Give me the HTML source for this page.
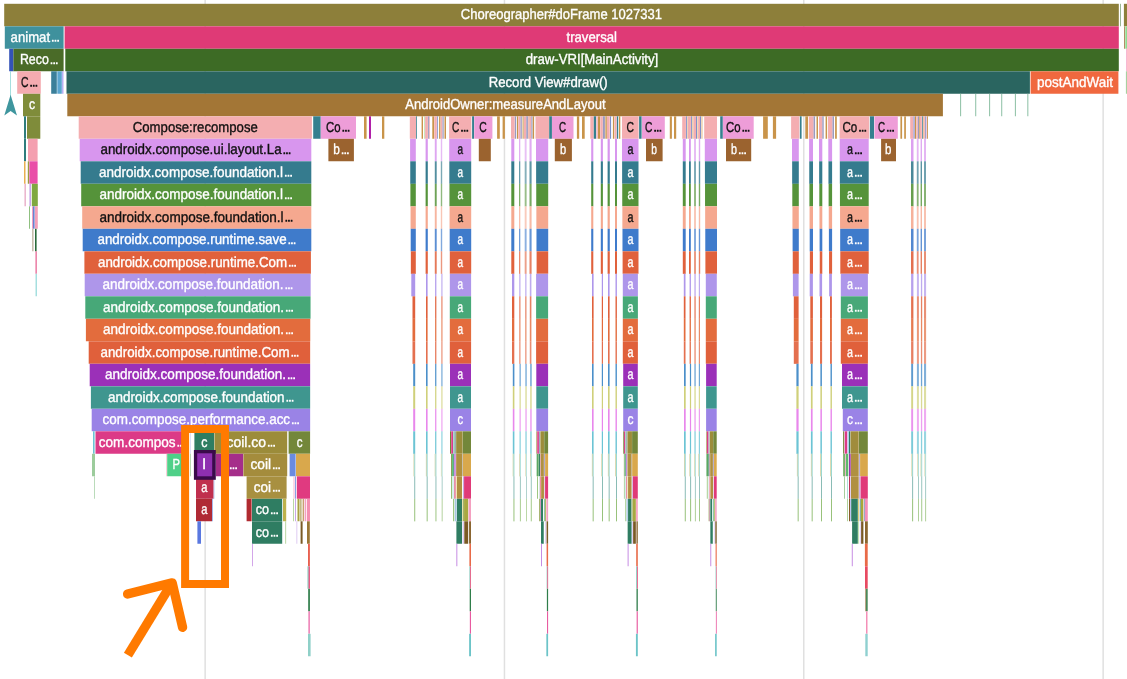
<!DOCTYPE html>
<html><head><meta charset="utf-8"><title>trace</title>
<style>
html,body{margin:0;padding:0;background:#fff;}
body{width:1127px;height:679px;overflow:hidden;}
svg{display:block;will-change:transform;}
text{font-family:"Liberation Sans",sans-serif;font-size:14.5px;text-rendering:geometricPrecision;}
</style></head><body>
<svg width="1127" height="679" viewBox="0 0 1127 679">
<rect x="0" y="0" width="1127" height="679" fill="#fff"/>
<rect x="204.40" y="0.00" width="1.50" height="679.00" fill="#e0e0e0"/>
<rect x="503.70" y="0.00" width="1.50" height="679.00" fill="#e0e0e0"/>
<rect x="803.00" y="0.00" width="1.50" height="679.00" fill="#e0e0e0"/>
<rect x="1102.40" y="0.00" width="1.50" height="679.00" fill="#e0e0e0"/>
<rect x="4.20" y="3.80" width="1114.60" height="22.45" fill="#8d7f3a"/>
<rect x="1120.10" y="3.80" width="0.70" height="22.45" fill="#6f9a6a"/>
<rect x="1123.90" y="3.80" width="3.10" height="22.45" fill="#8d7f3a"/>
<rect x="4.80" y="26.30" width="58.80" height="22.45" fill="#3f919d"/>
<rect x="64.60" y="26.30" width="1054.20" height="22.45" fill="#df3a76"/>
<rect x="1124.00" y="26.30" width="0.80" height="22.45" fill="#a07040"/>
<rect x="1125.30" y="26.30" width="1.70" height="22.45" fill="#8fdc8f"/>
<rect x="9.20" y="48.80" width="4.20" height="22.45" fill="#3353b8"/>
<rect x="13.40" y="48.80" width="50.20" height="22.45" fill="#4a6b28"/>
<rect x="65.30" y="48.80" width="1053.50" height="22.45" fill="#3d6b25"/>
<rect x="1126.20" y="48.80" width="0.80" height="22.45" fill="#f4a8c8"/>
<rect x="17.20" y="71.30" width="23.60" height="22.45" fill="#f4abb0"/>
<rect x="51.20" y="71.30" width="5.60" height="22.45" fill="#3b7f9a"/>
<rect x="57.30" y="71.30" width="4.50" height="22.45" fill="#5aa5d0"/>
<rect x="62.20" y="71.30" width="1.20" height="22.45" fill="#a99cf0"/>
<rect x="66.50" y="71.30" width="963.40" height="22.45" fill="#2a6560"/>
<rect x="1030.60" y="71.30" width="87.80" height="22.45" fill="#f0683f"/>
<rect x="1125.90" y="71.30" width="1.10" height="22.45" fill="#a8d0a0"/>
<rect x="23.00" y="93.80" width="17.30" height="22.45" fill="#7f8c3a"/>
<rect x="67.30" y="93.80" width="875.60" height="22.45" fill="#a37636"/>
<rect x="960.20" y="93.80" width="0.90" height="22.45" fill="#7fb89a"/>
<rect x="975.30" y="93.80" width="0.90" height="22.45" fill="#7fb89a"/>
<rect x="989.20" y="93.80" width="0.90" height="22.45" fill="#7fb89a"/>
<rect x="1001.30" y="93.80" width="0.90" height="22.45" fill="#7fb89a"/>
<rect x="1014.90" y="93.80" width="0.90" height="22.45" fill="#7fb89a"/>
<rect x="1027.40" y="93.80" width="0.90" height="22.45" fill="#7fb89a"/>
<rect x="10.30" y="71.30" width="0.70" height="24.70" fill="#7fd0d0"/>
<path d="M10.6 94.8 L17 115.6 L10.6 111 L4.3 115.6 Z" fill="#3f969e"/>
<rect x="24.00" y="116.30" width="2.00" height="22.45" fill="#2f7d7d"/>
<rect x="27.00" y="116.30" width="13.30" height="22.45" fill="#7f8c3a"/>
<rect x="24.00" y="138.80" width="2.00" height="22.45" fill="#2f7d7d"/>
<rect x="28.00" y="138.80" width="9.60" height="22.45" fill="#f4a0b0"/>
<rect x="24.00" y="161.30" width="1.50" height="22.45" fill="#e8b050"/>
<rect x="27.80" y="161.30" width="1.40" height="22.45" fill="#9a9a40"/>
<rect x="29.40" y="161.30" width="8.20" height="22.45" fill="#e94fa8"/>
<rect x="24.70" y="183.80" width="0.80" height="22.45" fill="#d870a0"/>
<rect x="29.40" y="183.80" width="1.60" height="22.45" fill="#c8a8e8"/>
<rect x="31.80" y="183.80" width="6.00" height="22.45" fill="#7fa840"/>
<rect x="29.00" y="206.30" width="1.00" height="22.45" fill="#8fc080"/>
<rect x="32.00" y="206.30" width="1.00" height="22.45" fill="#f0a0c0"/>
<rect x="33.00" y="206.30" width="1.60" height="22.45" fill="#6a80d0"/>
<rect x="35.00" y="206.30" width="2.80" height="22.45" fill="#f4a0b8"/>
<rect x="32.00" y="228.80" width="1.60" height="22.45" fill="#c8bfae"/>
<rect x="35.00" y="228.80" width="1.60" height="22.45" fill="#2a6a3a"/>
<rect x="35.60" y="251.30" width="1.00" height="22.45" fill="#e03a76"/>
<rect x="35.60" y="273.80" width="1.20" height="22.45" fill="#8fd8d8"/>
<rect x="78.70" y="116.30" width="233.20" height="22.45" fill="#f4aeb1"/>
<rect x="79.70" y="138.80" width="231.60" height="22.45" fill="#d896ee"/>
<rect x="80.70" y="161.30" width="230.60" height="22.45" fill="#357b8e"/>
<rect x="81.20" y="183.80" width="230.10" height="22.45" fill="#55933a"/>
<rect x="82.20" y="206.30" width="229.10" height="22.45" fill="#f5a88f"/>
<rect x="82.70" y="228.80" width="228.60" height="22.45" fill="#3f7bcb"/>
<rect x="84.40" y="251.30" width="226.50" height="22.45" fill="#e0613c"/>
<rect x="84.70" y="273.80" width="225.95" height="22.45" fill="#ae96ea"/>
<rect x="85.30" y="296.30" width="225.25" height="22.45" fill="#47a878"/>
<rect x="85.90" y="318.80" width="224.35" height="22.45" fill="#e36c3d"/>
<rect x="88.70" y="341.30" width="221.45" height="22.45" fill="#e0603b"/>
<rect x="89.70" y="363.80" width="220.45" height="22.45" fill="#9b30b8"/>
<rect x="90.90" y="386.30" width="219.25" height="22.45" fill="#3f968f"/>
<rect x="91.70" y="408.80" width="218.45" height="22.45" fill="#9a83e6"/>
<rect x="313.20" y="116.30" width="7.50" height="22.45" fill="#35808f"/>
<rect x="320.80" y="116.30" width="35.20" height="22.45" fill="#ee9dd8"/>
<rect x="328.40" y="138.80" width="25.50" height="22.45" fill="#9b632f"/>
<rect x="364.00" y="116.30" width="2.60" height="22.45" fill="#c9944a"/>
<rect x="369.00" y="116.30" width="2.00" height="22.45" fill="#b020a8"/>
<rect x="382.00" y="116.30" width="2.30" height="22.45" fill="#c9944a"/>
<rect x="409.80" y="116.30" width="6.20" height="22.45" fill="#f4aeb1"/>
<rect x="416.20" y="116.30" width="0.80" height="22.45" fill="#35808f"/>
<rect x="421.60" y="116.30" width="1.40" height="22.45" fill="#c9944a"/>
<rect x="424.30" y="116.30" width="0.60" height="22.45" fill="#a8d890"/>
<rect x="425.10" y="116.30" width="2.80" height="22.45" fill="#f4aeb1"/>
<rect x="428.10" y="116.30" width="1.30" height="22.45" fill="#9a9ac0"/>
<rect x="429.40" y="116.30" width="0.60" height="22.45" fill="#f4aeb1"/>
<rect x="432.30" y="116.30" width="1.80" height="22.45" fill="#c9944a"/>
<rect x="434.30" y="116.30" width="2.50" height="22.45" fill="#f4aeb1"/>
<rect x="437.00" y="116.30" width="0.80" height="22.45" fill="#7f8fc8"/>
<rect x="439.10" y="116.30" width="1.40" height="22.45" fill="#c9944a"/>
<rect x="440.70" y="116.30" width="1.70" height="22.45" fill="#f4aeb1"/>
<rect x="442.50" y="116.30" width="1.20" height="22.45" fill="#9a9ac0"/>
<rect x="444.50" y="116.30" width="1.50" height="22.45" fill="#c9944a"/>
<rect x="511.00" y="116.30" width="3.70" height="22.45" fill="#f4aeb1"/>
<rect x="514.90" y="116.30" width="1.30" height="22.45" fill="#9a9ac0"/>
<rect x="517.00" y="116.30" width="1.10" height="22.45" fill="#c9944a"/>
<rect x="518.30" y="116.30" width="2.10" height="22.45" fill="#f4aeb1"/>
<rect x="520.50" y="116.30" width="1.30" height="22.45" fill="#9a9ac0"/>
<rect x="522.60" y="116.30" width="1.00" height="22.45" fill="#c9944a"/>
<rect x="524.00" y="116.30" width="2.20" height="22.45" fill="#f4aeb1"/>
<rect x="526.30" y="116.30" width="1.60" height="22.45" fill="#9a9ac0"/>
<rect x="528.10" y="116.30" width="0.70" height="22.45" fill="#f4aeb1"/>
<rect x="528.90" y="116.30" width="0.50" height="22.45" fill="#c9944a"/>
<rect x="529.40" y="116.30" width="1.70" height="22.45" fill="#f4aeb1"/>
<rect x="531.30" y="116.30" width="1.20" height="22.45" fill="#9a9ac0"/>
<rect x="532.80" y="116.30" width="1.30" height="22.45" fill="#c9944a"/>
<rect x="590.30" y="116.30" width="3.40" height="22.45" fill="#f4aeb1"/>
<rect x="593.80" y="116.30" width="2.30" height="22.45" fill="#35808f"/>
<rect x="596.40" y="116.30" width="1.40" height="22.45" fill="#f4aeb1"/>
<rect x="598.00" y="116.30" width="2.10" height="22.45" fill="#c9944a"/>
<rect x="600.30" y="116.30" width="2.50" height="22.45" fill="#f4aeb1"/>
<rect x="602.90" y="116.30" width="2.00" height="22.45" fill="#9a9ac0"/>
<rect x="605.40" y="116.30" width="1.40" height="22.45" fill="#c9944a"/>
<rect x="607.00" y="116.30" width="2.70" height="22.45" fill="#f4aeb1"/>
<rect x="610.00" y="116.30" width="1.10" height="22.45" fill="#7f8fc8"/>
<rect x="612.90" y="116.30" width="1.30" height="22.45" fill="#c9944a"/>
<rect x="614.50" y="116.30" width="2.10" height="22.45" fill="#f4aeb1"/>
<rect x="616.90" y="116.30" width="1.30" height="22.45" fill="#35808f"/>
<rect x="619.00" y="116.30" width="1.30" height="22.45" fill="#c9944a"/>
<rect x="682.20" y="116.30" width="3.70" height="22.45" fill="#f4aeb1"/>
<rect x="686.10" y="116.30" width="0.90" height="22.45" fill="#7f8fc8"/>
<rect x="687.20" y="116.30" width="0.70" height="22.45" fill="#e8c8a0"/>
<rect x="687.90" y="116.30" width="3.00" height="22.45" fill="#f4aeb1"/>
<rect x="691.10" y="116.30" width="0.90" height="22.45" fill="#7f8fc8"/>
<rect x="692.20" y="116.30" width="1.30" height="22.45" fill="#e8c8a0"/>
<rect x="693.50" y="116.30" width="2.50" height="22.45" fill="#f4aeb1"/>
<rect x="696.00" y="116.30" width="1.00" height="22.45" fill="#7f8fc8"/>
<rect x="697.30" y="116.30" width="0.80" height="22.45" fill="#e8c8a0"/>
<rect x="698.10" y="116.30" width="1.90" height="22.45" fill="#f4aeb1"/>
<rect x="700.00" y="116.30" width="1.00" height="22.45" fill="#7f8fc8"/>
<rect x="701.30" y="116.30" width="1.30" height="22.45" fill="#e8c8a0"/>
<rect x="791.10" y="116.30" width="8.30" height="22.45" fill="#f4aeb1"/>
<rect x="799.90" y="116.30" width="1.70" height="22.45" fill="#35808f"/>
<rect x="805.30" y="116.30" width="2.70" height="22.45" fill="#c9944a"/>
<rect x="808.80" y="116.30" width="4.80" height="22.45" fill="#f4aeb1"/>
<rect x="813.60" y="116.30" width="1.50" height="22.45" fill="#9a9ac0"/>
<rect x="816.50" y="116.30" width="1.50" height="22.45" fill="#c9944a"/>
<rect x="819.00" y="116.30" width="3.30" height="22.45" fill="#f4aeb1"/>
<rect x="822.30" y="116.30" width="1.40" height="22.45" fill="#9a9ac0"/>
<rect x="825.60" y="116.30" width="1.50" height="22.45" fill="#c9944a"/>
<rect x="828.00" y="116.30" width="4.50" height="22.45" fill="#f4aeb1"/>
<rect x="832.50" y="116.30" width="1.50" height="22.45" fill="#9a9ac0"/>
<rect x="835.10" y="116.30" width="1.70" height="22.45" fill="#c9944a"/>
<rect x="910.20" y="116.30" width="2.90" height="22.45" fill="#f4aeb1"/>
<rect x="913.20" y="116.30" width="1.70" height="22.45" fill="#b0a8d0"/>
<rect x="915.00" y="116.30" width="1.20" height="22.45" fill="#c9944a"/>
<rect x="916.40" y="116.30" width="1.40" height="22.45" fill="#f4aeb1"/>
<rect x="917.90" y="116.30" width="1.10" height="22.45" fill="#9a9ac0"/>
<rect x="919.10" y="116.30" width="0.70" height="22.45" fill="#c9944a"/>
<rect x="919.90" y="116.30" width="1.90" height="22.45" fill="#f4aeb1"/>
<rect x="922.00" y="116.30" width="1.10" height="22.45" fill="#6a9aa8"/>
<rect x="923.20" y="116.30" width="1.00" height="22.45" fill="#f0b890"/>
<rect x="924.20" y="116.30" width="0.80" height="22.45" fill="#f4aeb1"/>
<rect x="925.10" y="116.30" width="1.00" height="22.45" fill="#9a9ac0"/>
<rect x="926.20" y="116.30" width="0.80" height="22.45" fill="#e0c0e8"/>
<rect x="927.10" y="116.30" width="0.90" height="22.45" fill="#c9944a"/>
<rect x="410.10" y="138.80" width="5.70" height="22.55" fill="#d896ee"/>
<rect x="410.25" y="161.30" width="5.55" height="22.55" fill="#357b8e"/>
<rect x="410.40" y="183.80" width="5.40" height="22.55" fill="#55933a"/>
<rect x="410.55" y="206.30" width="5.25" height="22.55" fill="#f5a88f"/>
<rect x="410.70" y="228.80" width="5.10" height="22.55" fill="#3f7bcb"/>
<rect x="410.85" y="251.30" width="4.95" height="22.55" fill="#e0613c"/>
<rect x="411.30" y="273.80" width="3.90" height="22.55" fill="#ae96ea"/>
<rect x="412.50" y="296.30" width="2.70" height="22.55" fill="#e0613c"/>
<rect x="412.50" y="318.80" width="2.70" height="22.55" fill="#e36c3d"/>
<rect x="412.50" y="341.30" width="2.70" height="22.55" fill="#e4704f"/>
<rect x="413.20" y="363.80" width="2.00" height="22.55" fill="#4b8fc9"/>
<rect x="413.20" y="386.30" width="2.00" height="22.55" fill="#cfd07a"/>
<rect x="413.20" y="408.80" width="2.00" height="22.55" fill="#e887ec"/>
<rect x="413.20" y="431.30" width="2.00" height="22.55" fill="#6cc4d4"/>
<rect x="413.50" y="453.80" width="0.85" height="22.55" fill="#d0cc98" opacity="0.9"/>
<rect x="414.30" y="453.80" width="0.90" height="22.55" fill="#84cfc9" opacity="0.9"/>
<rect x="414.30" y="476.30" width="0.90" height="22.55" fill="#6faca4" opacity="0.9"/>
<rect x="414.30" y="498.80" width="0.90" height="22.55" fill="#80b45c" opacity="0.9"/>
<rect x="425.60" y="138.80" width="2.20" height="22.55" fill="#d896ee"/>
<rect x="425.60" y="161.30" width="2.20" height="22.55" fill="#357b8e"/>
<rect x="425.60" y="183.80" width="2.20" height="22.55" fill="#55933a"/>
<rect x="425.60" y="206.30" width="2.20" height="22.55" fill="#f5a88f"/>
<rect x="425.60" y="228.80" width="2.20" height="22.55" fill="#3f7bcb"/>
<rect x="425.60" y="251.30" width="2.20" height="22.55" fill="#e0613c"/>
<rect x="426.00" y="273.80" width="1.60" height="22.55" fill="#ae96ea"/>
<rect x="426.00" y="296.30" width="1.60" height="22.55" fill="#e0613c"/>
<rect x="426.00" y="318.80" width="1.60" height="22.55" fill="#e36c3d"/>
<rect x="426.00" y="341.30" width="1.60" height="22.55" fill="#e4704f"/>
<rect x="426.00" y="363.80" width="1.60" height="22.55" fill="#4b8fc9"/>
<rect x="426.00" y="386.30" width="1.60" height="22.55" fill="#cfd07a"/>
<rect x="426.00" y="408.80" width="1.60" height="22.55" fill="#e887ec"/>
<rect x="426.00" y="431.30" width="1.60" height="22.55" fill="#6cc4d4"/>
<rect x="425.90" y="453.80" width="0.85" height="22.55" fill="#d0cc98" opacity="0.9"/>
<rect x="426.70" y="453.80" width="0.90" height="22.55" fill="#84cfc9" opacity="0.9"/>
<rect x="426.70" y="476.30" width="0.90" height="22.55" fill="#6faca4" opacity="0.9"/>
<rect x="426.70" y="498.80" width="0.90" height="22.55" fill="#80b45c" opacity="0.9"/>
<rect x="434.80" y="138.80" width="1.90" height="22.55" fill="#d896ee" opacity="0.85"/>
<rect x="434.80" y="161.30" width="1.90" height="22.55" fill="#357b8e" opacity="0.85"/>
<rect x="434.80" y="183.80" width="1.90" height="22.55" fill="#55933a" opacity="0.85"/>
<rect x="434.80" y="206.30" width="1.90" height="22.55" fill="#f5a88f" opacity="0.85"/>
<rect x="434.80" y="228.80" width="1.90" height="22.55" fill="#3f7bcb" opacity="0.85"/>
<rect x="434.80" y="251.30" width="1.90" height="22.55" fill="#e0613c" opacity="0.85"/>
<rect x="435.00" y="273.80" width="1.40" height="22.55" fill="#ae96ea" opacity="0.85"/>
<rect x="435.00" y="296.30" width="1.40" height="22.55" fill="#e0613c" opacity="0.85"/>
<rect x="435.00" y="318.80" width="1.40" height="22.55" fill="#e36c3d" opacity="0.85"/>
<rect x="435.00" y="341.30" width="1.40" height="22.55" fill="#e4704f" opacity="0.85"/>
<rect x="435.00" y="363.80" width="1.40" height="22.55" fill="#4b8fc9" opacity="0.85"/>
<rect x="435.00" y="386.30" width="1.40" height="22.55" fill="#cfd07a" opacity="0.85"/>
<rect x="435.00" y="408.80" width="1.40" height="22.55" fill="#e887ec" opacity="0.85"/>
<rect x="435.00" y="431.30" width="1.40" height="22.55" fill="#6cc4d4" opacity="0.85"/>
<rect x="434.70" y="453.80" width="0.85" height="22.55" fill="#d0cc98" opacity="0.85"/>
<rect x="435.50" y="453.80" width="0.90" height="22.55" fill="#84cfc9" opacity="0.85"/>
<rect x="435.50" y="476.30" width="0.90" height="22.55" fill="#6faca4" opacity="0.85"/>
<rect x="435.50" y="498.80" width="0.90" height="22.55" fill="#80b45c" opacity="0.85"/>
<rect x="440.80" y="138.80" width="1.40" height="22.55" fill="#d896ee" opacity="0.65"/>
<rect x="440.80" y="161.30" width="1.40" height="22.55" fill="#357b8e" opacity="0.65"/>
<rect x="440.80" y="183.80" width="1.40" height="22.55" fill="#55933a" opacity="0.65"/>
<rect x="440.80" y="206.30" width="1.40" height="22.55" fill="#f5a88f" opacity="0.65"/>
<rect x="440.80" y="228.80" width="1.40" height="22.55" fill="#3f7bcb" opacity="0.65"/>
<rect x="440.80" y="251.30" width="1.40" height="22.55" fill="#e0613c" opacity="0.65"/>
<rect x="441.20" y="273.80" width="1.40" height="22.55" fill="#ae96ea" opacity="0.65"/>
<rect x="441.20" y="296.30" width="1.40" height="22.55" fill="#e0613c" opacity="0.65"/>
<rect x="441.20" y="318.80" width="1.40" height="22.55" fill="#e36c3d" opacity="0.65"/>
<rect x="441.20" y="341.30" width="1.40" height="22.55" fill="#e4704f" opacity="0.65"/>
<rect x="441.20" y="363.80" width="1.40" height="22.55" fill="#4b8fc9" opacity="0.65"/>
<rect x="441.20" y="386.30" width="1.40" height="22.55" fill="#cfd07a" opacity="0.65"/>
<rect x="441.20" y="408.80" width="1.40" height="22.55" fill="#e887ec" opacity="0.65"/>
<rect x="441.20" y="431.30" width="1.40" height="22.55" fill="#6cc4d4" opacity="0.65"/>
<rect x="440.90" y="453.80" width="0.85" height="22.55" fill="#d0cc98" opacity="0.65"/>
<rect x="441.70" y="453.80" width="0.90" height="22.55" fill="#84cfc9" opacity="0.65"/>
<rect x="441.70" y="476.30" width="0.90" height="22.55" fill="#6faca4" opacity="0.65"/>
<rect x="441.70" y="498.80" width="0.90" height="22.55" fill="#80b45c" opacity="0.65"/>
<rect x="449.10" y="116.30" width="22.30" height="22.45" fill="#f4aeb1"/>
<rect x="472.10" y="116.30" width="1.90" height="22.45" fill="#35808f"/>
<rect x="474.20" y="116.30" width="18.20" height="22.45" fill="#ee9dd8"/>
<rect x="449.20" y="138.80" width="22.00" height="22.45" fill="#d896ee"/>
<rect x="449.32" y="161.30" width="21.88" height="22.45" fill="#357b8e"/>
<rect x="449.44" y="183.80" width="21.76" height="22.45" fill="#55933a"/>
<rect x="449.56" y="206.30" width="21.64" height="22.45" fill="#f5a88f"/>
<rect x="449.68" y="228.80" width="21.52" height="22.45" fill="#3f7bcb"/>
<rect x="449.80" y="251.30" width="21.40" height="22.45" fill="#e0613c"/>
<rect x="449.80" y="273.80" width="21.30" height="22.45" fill="#ae96ea"/>
<rect x="449.80" y="296.30" width="21.30" height="22.45" fill="#47a878"/>
<rect x="449.80" y="318.80" width="21.30" height="22.45" fill="#e36c3d"/>
<rect x="449.80" y="341.30" width="21.30" height="22.45" fill="#e0603b"/>
<rect x="450.00" y="363.80" width="21.00" height="22.45" fill="#9b30b8"/>
<rect x="450.00" y="386.30" width="21.00" height="22.45" fill="#3f968f"/>
<rect x="450.00" y="408.80" width="21.00" height="22.45" fill="#9a83e6"/>
<rect x="450.00" y="431.30" width="1.05" height="22.45" fill="#73873a"/>
<rect x="451.22" y="431.30" width="1.81" height="22.45" fill="#dc3a87"/>
<rect x="453.34" y="431.30" width="1.07" height="22.45" fill="#7fc8b8"/>
<rect x="454.41" y="431.30" width="1.47" height="22.45" fill="#8aa8a0"/>
<rect x="456.15" y="431.30" width="6.45" height="22.45" fill="#9c8c3a"/>
<rect x="462.81" y="431.30" width="8.19" height="22.45" fill="#73873a"/>
<rect x="451.01" y="453.80" width="0.82" height="22.45" fill="#73873a"/>
<rect x="452.02" y="453.80" width="1.13" height="22.45" fill="#5fc878"/>
<rect x="453.15" y="453.80" width="0.69" height="22.45" fill="#2f7d62"/>
<rect x="453.99" y="453.80" width="1.89" height="22.45" fill="#c890e0"/>
<rect x="456.15" y="453.80" width="5.86" height="22.45" fill="#b09040"/>
<rect x="462.12" y="453.80" width="0.69" height="22.45" fill="#b0a890"/>
<rect x="462.92" y="453.80" width="8.08" height="22.45" fill="#d9a84c"/>
<rect x="451.05" y="476.30" width="1.05" height="22.45" fill="#8fc070"/>
<rect x="452.37" y="476.30" width="1.28" height="22.45" fill="#c8ece8"/>
<rect x="453.99" y="476.30" width="1.89" height="22.45" fill="#e890a8"/>
<rect x="456.09" y="476.30" width="0.76" height="22.45" fill="#f0e0a0"/>
<rect x="456.99" y="476.30" width="5.06" height="22.45" fill="#b09040"/>
<rect x="463.10" y="476.30" width="0.76" height="22.45" fill="#b888d8"/>
<rect x="464.07" y="476.30" width="6.93" height="22.45" fill="#e03a78"/>
<rect x="453.13" y="498.80" width="1.05" height="22.45" fill="#8fc070"/>
<rect x="454.77" y="498.80" width="1.87" height="22.45" fill="#a8c8e0"/>
<rect x="456.99" y="498.80" width="5.06" height="22.45" fill="#2f7d62"/>
<rect x="462.18" y="498.80" width="0.78" height="22.45" fill="#e8dc98"/>
<rect x="463.10" y="498.80" width="0.76" height="22.45" fill="#8a9a40"/>
<rect x="464.07" y="498.80" width="4.10" height="22.45" fill="#a8a840"/>
<rect x="468.54" y="498.80" width="2.46" height="22.45" fill="#f4a0c0"/>
<rect x="456.40" y="521.30" width="5.65" height="22.45" fill="#2f7d62"/>
<rect x="462.81" y="521.30" width="1.05" height="22.45" fill="#d8c0f0"/>
<rect x="464.28" y="521.30" width="3.89" height="22.45" fill="#7a5a25"/>
<rect x="469.07" y="521.30" width="1.93" height="22.45" fill="#8a6530"/>
<rect x="456.40" y="543.80" width="0.90" height="22.45" fill="#c080e0"/>
<rect x="469.40" y="543.80" width="1.60" height="22.45" fill="#e86a48"/>
<rect x="469.56" y="566.30" width="0.72" height="22.45" fill="#5fb8a8"/>
<rect x="470.21" y="566.30" width="0.79" height="22.45" fill="#e84a78"/>
<rect x="469.70" y="588.80" width="1.30" height="22.45" fill="#2f7d4a"/>
<rect x="469.85" y="611.30" width="1.15" height="22.45" fill="#e85aa0"/>
<rect x="469.13" y="633.80" width="1.87" height="22.45" fill="#6cc4c8"/>
<rect x="478.80" y="138.80" width="12.00" height="22.45" fill="#9b632f"/>
<rect x="497.10" y="116.30" width="2.70" height="22.45" fill="#c9944a"/>
<rect x="502.60" y="116.30" width="2.30" height="22.45" fill="#c9944a"/>
<rect x="511.30" y="138.80" width="3.00" height="22.55" fill="#d896ee"/>
<rect x="511.30" y="161.30" width="3.00" height="22.55" fill="#357b8e"/>
<rect x="511.30" y="183.80" width="3.00" height="22.55" fill="#55933a"/>
<rect x="511.30" y="206.30" width="3.00" height="22.55" fill="#f5a88f"/>
<rect x="511.30" y="228.80" width="3.00" height="22.55" fill="#3f7bcb"/>
<rect x="511.30" y="251.30" width="3.00" height="22.55" fill="#e0613c"/>
<rect x="512.00" y="273.80" width="2.30" height="22.55" fill="#ae96ea"/>
<rect x="512.00" y="296.30" width="2.30" height="22.55" fill="#e0613c"/>
<rect x="512.00" y="318.80" width="2.30" height="22.55" fill="#e36c3d"/>
<rect x="512.00" y="341.30" width="2.30" height="22.55" fill="#e4704f"/>
<rect x="512.80" y="363.80" width="1.60" height="22.55" fill="#4b8fc9"/>
<rect x="512.80" y="386.30" width="1.60" height="22.55" fill="#cfd07a"/>
<rect x="512.80" y="408.80" width="1.60" height="22.55" fill="#e887ec"/>
<rect x="512.80" y="431.30" width="1.60" height="22.55" fill="#6cc4d4"/>
<rect x="512.70" y="453.80" width="0.85" height="22.55" fill="#d0cc98" opacity="0.9"/>
<rect x="513.50" y="453.80" width="0.90" height="22.55" fill="#84cfc9" opacity="0.9"/>
<rect x="513.50" y="476.30" width="0.90" height="22.55" fill="#6faca4" opacity="0.9"/>
<rect x="513.50" y="498.80" width="0.90" height="22.55" fill="#80b45c" opacity="0.9"/>
<rect x="519.00" y="138.80" width="1.30" height="22.55" fill="#d896ee" opacity="0.75"/>
<rect x="519.00" y="161.30" width="1.30" height="22.55" fill="#357b8e" opacity="0.75"/>
<rect x="519.00" y="183.80" width="1.30" height="22.55" fill="#55933a" opacity="0.75"/>
<rect x="519.00" y="206.30" width="1.30" height="22.55" fill="#f5a88f" opacity="0.75"/>
<rect x="519.00" y="228.80" width="1.30" height="22.55" fill="#3f7bcb" opacity="0.75"/>
<rect x="519.00" y="251.30" width="1.30" height="22.55" fill="#e0613c" opacity="0.75"/>
<rect x="519.20" y="273.80" width="1.30" height="22.55" fill="#ae96ea" opacity="0.75"/>
<rect x="519.20" y="296.30" width="1.30" height="22.55" fill="#e0613c" opacity="0.75"/>
<rect x="519.20" y="318.80" width="1.30" height="22.55" fill="#e36c3d" opacity="0.75"/>
<rect x="519.20" y="341.30" width="1.30" height="22.55" fill="#e4704f" opacity="0.75"/>
<rect x="519.50" y="363.80" width="1.30" height="22.55" fill="#4b8fc9" opacity="0.75"/>
<rect x="519.50" y="386.30" width="1.30" height="22.55" fill="#cfd07a" opacity="0.75"/>
<rect x="519.50" y="408.80" width="1.30" height="22.55" fill="#e887ec" opacity="0.75"/>
<rect x="519.50" y="431.30" width="1.30" height="22.55" fill="#6cc4d4" opacity="0.75"/>
<rect x="519.10" y="453.80" width="0.85" height="22.55" fill="#d0cc98" opacity="0.75"/>
<rect x="519.90" y="453.80" width="0.90" height="22.55" fill="#84cfc9" opacity="0.75"/>
<rect x="519.90" y="476.30" width="0.90" height="22.55" fill="#6faca4" opacity="0.75"/>
<rect x="519.90" y="498.80" width="0.90" height="22.55" fill="#80b45c" opacity="0.75"/>
<rect x="524.70" y="138.80" width="1.90" height="22.55" fill="#d896ee" opacity="0.6"/>
<rect x="524.70" y="161.30" width="1.90" height="22.55" fill="#357b8e" opacity="0.6"/>
<rect x="524.70" y="183.80" width="1.90" height="22.55" fill="#55933a" opacity="0.6"/>
<rect x="524.70" y="206.30" width="1.90" height="22.55" fill="#f5a88f" opacity="0.6"/>
<rect x="524.70" y="228.80" width="1.90" height="22.55" fill="#3f7bcb" opacity="0.6"/>
<rect x="524.70" y="251.30" width="1.90" height="22.55" fill="#e0613c" opacity="0.6"/>
<rect x="525.00" y="273.80" width="1.60" height="22.55" fill="#ae96ea" opacity="0.6"/>
<rect x="525.00" y="296.30" width="1.60" height="22.55" fill="#e0613c" opacity="0.6"/>
<rect x="525.00" y="318.80" width="1.60" height="22.55" fill="#e36c3d" opacity="0.6"/>
<rect x="525.00" y="341.30" width="1.60" height="22.55" fill="#e4704f" opacity="0.6"/>
<rect x="525.20" y="363.80" width="1.70" height="22.55" fill="#4b8fc9" opacity="0.6"/>
<rect x="525.20" y="386.30" width="1.70" height="22.55" fill="#cfd07a" opacity="0.6"/>
<rect x="525.20" y="408.80" width="1.70" height="22.55" fill="#e887ec" opacity="0.6"/>
<rect x="525.20" y="431.30" width="1.70" height="22.55" fill="#6cc4d4" opacity="0.6"/>
<rect x="525.20" y="453.80" width="0.85" height="22.55" fill="#d0cc98" opacity="0.6"/>
<rect x="526.00" y="453.80" width="0.90" height="22.55" fill="#84cfc9" opacity="0.6"/>
<rect x="526.00" y="476.30" width="0.90" height="22.55" fill="#6faca4" opacity="0.6"/>
<rect x="526.00" y="498.80" width="0.90" height="22.55" fill="#80b45c" opacity="0.6"/>
<rect x="529.50" y="138.80" width="2.10" height="22.55" fill="#d896ee" opacity="0.8"/>
<rect x="529.50" y="161.30" width="2.10" height="22.55" fill="#357b8e" opacity="0.8"/>
<rect x="529.50" y="183.80" width="2.10" height="22.55" fill="#55933a" opacity="0.8"/>
<rect x="529.50" y="206.30" width="2.10" height="22.55" fill="#f5a88f" opacity="0.8"/>
<rect x="529.50" y="228.80" width="2.10" height="22.55" fill="#3f7bcb" opacity="0.8"/>
<rect x="529.50" y="251.30" width="2.10" height="22.55" fill="#e0613c" opacity="0.8"/>
<rect x="529.80" y="273.80" width="1.60" height="22.55" fill="#ae96ea" opacity="0.8"/>
<rect x="529.80" y="296.30" width="1.60" height="22.55" fill="#e0613c" opacity="0.8"/>
<rect x="529.80" y="318.80" width="1.60" height="22.55" fill="#e36c3d" opacity="0.8"/>
<rect x="529.80" y="341.30" width="1.60" height="22.55" fill="#e4704f" opacity="0.8"/>
<rect x="530.20" y="363.80" width="1.50" height="22.55" fill="#4b8fc9" opacity="0.8"/>
<rect x="530.20" y="386.30" width="1.50" height="22.55" fill="#cfd07a" opacity="0.8"/>
<rect x="530.20" y="408.80" width="1.50" height="22.55" fill="#e887ec" opacity="0.8"/>
<rect x="530.20" y="431.30" width="1.50" height="22.55" fill="#6cc4d4" opacity="0.8"/>
<rect x="530.00" y="453.80" width="0.85" height="22.55" fill="#d0cc98" opacity="0.8"/>
<rect x="530.80" y="453.80" width="0.90" height="22.55" fill="#84cfc9" opacity="0.8"/>
<rect x="530.80" y="476.30" width="0.90" height="22.55" fill="#6faca4" opacity="0.8"/>
<rect x="530.80" y="498.80" width="0.90" height="22.55" fill="#80b45c" opacity="0.8"/>
<rect x="535.50" y="116.30" width="13.50" height="22.45" fill="#f4aeb1"/>
<rect x="549.20" y="116.30" width="2.70" height="22.45" fill="#35808f"/>
<rect x="552.00" y="116.30" width="21.50" height="22.45" fill="#ee9dd8"/>
<rect x="536.00" y="138.80" width="12.20" height="22.45" fill="#d896ee"/>
<rect x="536.12" y="161.30" width="12.08" height="22.45" fill="#357b8e"/>
<rect x="536.24" y="183.80" width="11.96" height="22.45" fill="#55933a"/>
<rect x="536.36" y="206.30" width="11.84" height="22.45" fill="#f5a88f"/>
<rect x="536.48" y="228.80" width="11.72" height="22.45" fill="#3f7bcb"/>
<rect x="536.60" y="251.30" width="11.60" height="22.45" fill="#e0613c"/>
<rect x="536.10" y="273.80" width="12.00" height="22.45" fill="#ae96ea"/>
<rect x="536.10" y="296.30" width="12.00" height="22.45" fill="#47a878"/>
<rect x="536.10" y="318.80" width="12.00" height="22.45" fill="#e36c3d"/>
<rect x="536.10" y="341.30" width="12.00" height="22.45" fill="#e0603b"/>
<rect x="536.30" y="363.80" width="11.80" height="22.45" fill="#9b30b8"/>
<rect x="536.30" y="386.30" width="11.80" height="22.45" fill="#3f968f"/>
<rect x="536.30" y="408.80" width="11.80" height="22.45" fill="#9a83e6"/>
<rect x="536.30" y="431.30" width="0.83" height="22.45" fill="#a8a060"/>
<rect x="537.24" y="431.30" width="1.65" height="22.45" fill="#dc3a87"/>
<rect x="539.13" y="431.30" width="0.83" height="22.45" fill="#8a9ab8"/>
<rect x="540.37" y="431.30" width="3.60" height="22.45" fill="#9c8c3a"/>
<rect x="544.21" y="431.30" width="3.89" height="22.45" fill="#73873a"/>
<rect x="536.65" y="453.80" width="2.01" height="22.45" fill="#5aa860"/>
<rect x="538.90" y="453.80" width="1.06" height="22.45" fill="#2f7d62"/>
<rect x="540.08" y="453.80" width="0.59" height="22.45" fill="#d88090"/>
<rect x="540.84" y="453.80" width="3.01" height="22.45" fill="#b09040"/>
<rect x="543.97" y="453.80" width="1.00" height="22.45" fill="#b0a8c8"/>
<rect x="545.13" y="453.80" width="2.97" height="22.45" fill="#d9a84c"/>
<rect x="537.13" y="476.30" width="0.87" height="22.45" fill="#8fc070"/>
<rect x="539.01" y="476.30" width="0.71" height="22.45" fill="#c8e0e0"/>
<rect x="539.91" y="476.30" width="1.11" height="22.45" fill="#f090a0"/>
<rect x="541.14" y="476.30" width="2.83" height="22.45" fill="#b09040"/>
<rect x="544.09" y="476.30" width="0.83" height="22.45" fill="#e0d0e0"/>
<rect x="545.08" y="476.30" width="3.02" height="22.45" fill="#e03a78"/>
<rect x="539.18" y="498.80" width="0.73" height="22.45" fill="#8a9a40"/>
<rect x="540.08" y="498.80" width="0.71" height="22.45" fill="#c070a0"/>
<rect x="541.02" y="498.80" width="2.01" height="22.45" fill="#2f7d62"/>
<rect x="543.97" y="498.80" width="1.25" height="22.45" fill="#8fc8a8"/>
<rect x="545.22" y="498.80" width="0.76" height="22.45" fill="#a8a840"/>
<rect x="546.33" y="498.80" width="1.77" height="22.45" fill="#f4a0c0"/>
<rect x="541.02" y="521.30" width="2.71" height="22.45" fill="#2f7d62"/>
<rect x="545.03" y="521.30" width="0.71" height="22.45" fill="#d8c0f0"/>
<rect x="546.57" y="521.30" width="1.53" height="22.45" fill="#7a5a25"/>
<rect x="541.02" y="543.80" width="0.90" height="22.45" fill="#c080e0"/>
<rect x="546.60" y="543.80" width="1.50" height="22.45" fill="#e86a48"/>
<rect x="546.75" y="566.30" width="0.68" height="22.45" fill="#5fb8a8"/>
<rect x="547.36" y="566.30" width="0.74" height="22.45" fill="#e84a78"/>
<rect x="546.88" y="588.80" width="1.22" height="22.45" fill="#2f7d4a"/>
<rect x="547.02" y="611.30" width="1.08" height="22.45" fill="#e85aa0"/>
<rect x="546.35" y="633.80" width="1.75" height="22.45" fill="#6cc4c8"/>
<rect x="554.80" y="138.80" width="17.10" height="22.45" fill="#9b632f"/>
<rect x="576.90" y="116.30" width="2.30" height="22.45" fill="#c9944a"/>
<rect x="582.00" y="116.30" width="2.70" height="22.45" fill="#c9944a"/>
<rect x="591.20" y="138.80" width="2.10" height="22.55" fill="#d896ee"/>
<rect x="591.20" y="161.30" width="2.10" height="22.55" fill="#357b8e"/>
<rect x="591.20" y="183.80" width="2.10" height="22.55" fill="#55933a"/>
<rect x="591.20" y="206.30" width="2.10" height="22.55" fill="#f5a88f"/>
<rect x="591.20" y="228.80" width="2.10" height="22.55" fill="#3f7bcb"/>
<rect x="591.20" y="251.30" width="2.10" height="22.55" fill="#e0613c"/>
<rect x="592.00" y="273.80" width="1.60" height="22.55" fill="#ae96ea"/>
<rect x="592.00" y="296.30" width="1.60" height="22.55" fill="#e0613c"/>
<rect x="592.00" y="318.80" width="1.60" height="22.55" fill="#e36c3d"/>
<rect x="592.00" y="341.30" width="1.60" height="22.55" fill="#e4704f"/>
<rect x="592.00" y="363.80" width="1.60" height="22.55" fill="#4b8fc9"/>
<rect x="592.00" y="386.30" width="1.60" height="22.55" fill="#cfd07a"/>
<rect x="592.00" y="408.80" width="1.60" height="22.55" fill="#e887ec"/>
<rect x="592.00" y="431.30" width="1.60" height="22.55" fill="#6cc4d4"/>
<rect x="591.90" y="453.80" width="0.85" height="22.55" fill="#d0cc98" opacity="0.9"/>
<rect x="592.70" y="453.80" width="0.90" height="22.55" fill="#84cfc9" opacity="0.9"/>
<rect x="592.70" y="476.30" width="0.90" height="22.55" fill="#6faca4" opacity="0.9"/>
<rect x="592.70" y="498.80" width="0.90" height="22.55" fill="#80b45c" opacity="0.9"/>
<rect x="600.80" y="138.80" width="2.10" height="22.55" fill="#d896ee"/>
<rect x="600.80" y="161.30" width="2.10" height="22.55" fill="#357b8e"/>
<rect x="600.80" y="183.80" width="2.10" height="22.55" fill="#55933a"/>
<rect x="600.80" y="206.30" width="2.10" height="22.55" fill="#f5a88f"/>
<rect x="600.80" y="228.80" width="2.10" height="22.55" fill="#3f7bcb"/>
<rect x="600.80" y="251.30" width="2.10" height="22.55" fill="#e0613c"/>
<rect x="601.80" y="273.80" width="1.20" height="22.55" fill="#ae96ea"/>
<rect x="601.80" y="296.30" width="1.20" height="22.55" fill="#e0613c"/>
<rect x="601.80" y="318.80" width="1.20" height="22.55" fill="#e36c3d"/>
<rect x="601.80" y="341.30" width="1.20" height="22.55" fill="#e4704f"/>
<rect x="601.80" y="363.80" width="1.20" height="22.55" fill="#4b8fc9"/>
<rect x="601.80" y="386.30" width="1.20" height="22.55" fill="#cfd07a"/>
<rect x="601.80" y="408.80" width="1.20" height="22.55" fill="#e887ec"/>
<rect x="601.80" y="431.30" width="1.20" height="22.55" fill="#6cc4d4"/>
<rect x="601.30" y="453.80" width="0.85" height="22.55" fill="#d0cc98" opacity="0.9"/>
<rect x="602.10" y="453.80" width="0.90" height="22.55" fill="#84cfc9" opacity="0.9"/>
<rect x="602.10" y="476.30" width="0.90" height="22.55" fill="#6faca4" opacity="0.9"/>
<rect x="602.10" y="498.80" width="0.90" height="22.55" fill="#80b45c" opacity="0.9"/>
<rect x="607.60" y="138.80" width="2.20" height="22.55" fill="#d896ee"/>
<rect x="607.60" y="161.30" width="2.20" height="22.55" fill="#357b8e"/>
<rect x="607.60" y="183.80" width="2.20" height="22.55" fill="#55933a"/>
<rect x="607.60" y="206.30" width="2.20" height="22.55" fill="#f5a88f"/>
<rect x="607.60" y="228.80" width="2.20" height="22.55" fill="#3f7bcb"/>
<rect x="607.60" y="251.30" width="2.20" height="22.55" fill="#e0613c"/>
<rect x="608.00" y="273.80" width="1.60" height="22.55" fill="#ae96ea"/>
<rect x="608.00" y="296.30" width="1.60" height="22.55" fill="#e0613c"/>
<rect x="608.00" y="318.80" width="1.60" height="22.55" fill="#e36c3d"/>
<rect x="608.00" y="341.30" width="1.60" height="22.55" fill="#e4704f"/>
<rect x="608.00" y="363.80" width="1.60" height="22.55" fill="#4b8fc9"/>
<rect x="608.00" y="386.30" width="1.60" height="22.55" fill="#cfd07a"/>
<rect x="608.00" y="408.80" width="1.60" height="22.55" fill="#e887ec"/>
<rect x="608.00" y="431.30" width="1.60" height="22.55" fill="#6cc4d4"/>
<rect x="607.90" y="453.80" width="0.85" height="22.55" fill="#d0cc98" opacity="0.9"/>
<rect x="608.70" y="453.80" width="0.90" height="22.55" fill="#84cfc9" opacity="0.9"/>
<rect x="608.70" y="476.30" width="0.90" height="22.55" fill="#6faca4" opacity="0.9"/>
<rect x="608.70" y="498.80" width="0.90" height="22.55" fill="#80b45c" opacity="0.9"/>
<rect x="615.00" y="138.80" width="2.00" height="22.55" fill="#d896ee"/>
<rect x="615.00" y="161.30" width="2.00" height="22.55" fill="#357b8e"/>
<rect x="615.00" y="183.80" width="2.00" height="22.55" fill="#55933a"/>
<rect x="615.00" y="206.30" width="2.00" height="22.55" fill="#f5a88f"/>
<rect x="615.00" y="228.80" width="2.00" height="22.55" fill="#3f7bcb"/>
<rect x="615.00" y="251.30" width="2.00" height="22.55" fill="#e0613c"/>
<rect x="615.50" y="273.80" width="1.40" height="22.55" fill="#ae96ea"/>
<rect x="615.50" y="296.30" width="1.40" height="22.55" fill="#e0613c"/>
<rect x="615.50" y="318.80" width="1.40" height="22.55" fill="#e36c3d"/>
<rect x="615.50" y="341.30" width="1.40" height="22.55" fill="#e4704f"/>
<rect x="615.50" y="363.80" width="1.40" height="22.55" fill="#4b8fc9"/>
<rect x="615.50" y="386.30" width="1.40" height="22.55" fill="#cfd07a"/>
<rect x="615.50" y="408.80" width="1.40" height="22.55" fill="#e887ec"/>
<rect x="615.50" y="431.30" width="1.40" height="22.55" fill="#6cc4d4"/>
<rect x="615.20" y="453.80" width="0.85" height="22.55" fill="#d0cc98" opacity="0.9"/>
<rect x="616.00" y="453.80" width="0.90" height="22.55" fill="#84cfc9" opacity="0.9"/>
<rect x="616.00" y="476.30" width="0.90" height="22.55" fill="#6faca4" opacity="0.9"/>
<rect x="616.00" y="498.80" width="0.90" height="22.55" fill="#80b45c" opacity="0.9"/>
<rect x="622.00" y="116.30" width="16.60" height="22.45" fill="#f4aeb1"/>
<rect x="639.10" y="116.30" width="2.50" height="22.45" fill="#35808f"/>
<rect x="642.00" y="116.30" width="22.80" height="22.45" fill="#ee9dd8"/>
<rect x="622.00" y="138.80" width="16.50" height="22.45" fill="#d896ee"/>
<rect x="622.12" y="161.30" width="16.38" height="22.45" fill="#357b8e"/>
<rect x="622.24" y="183.80" width="16.26" height="22.45" fill="#55933a"/>
<rect x="622.36" y="206.30" width="16.14" height="22.45" fill="#f5a88f"/>
<rect x="622.48" y="228.80" width="16.02" height="22.45" fill="#3f7bcb"/>
<rect x="622.60" y="251.30" width="15.90" height="22.45" fill="#e0613c"/>
<rect x="622.80" y="273.80" width="15.10" height="22.45" fill="#ae96ea"/>
<rect x="622.80" y="296.30" width="15.10" height="22.45" fill="#47a878"/>
<rect x="622.80" y="318.80" width="15.10" height="22.45" fill="#e36c3d"/>
<rect x="622.80" y="341.30" width="15.10" height="22.45" fill="#e0603b"/>
<rect x="623.20" y="363.80" width="14.60" height="22.45" fill="#9b30b8"/>
<rect x="623.20" y="386.30" width="14.60" height="22.45" fill="#3f968f"/>
<rect x="623.20" y="408.80" width="14.60" height="22.45" fill="#9a83e6"/>
<rect x="623.20" y="431.30" width="0.73" height="22.45" fill="#73873a"/>
<rect x="624.05" y="431.30" width="1.26" height="22.45" fill="#dc3a87"/>
<rect x="625.52" y="431.30" width="0.74" height="22.45" fill="#7fc8b8"/>
<rect x="626.27" y="431.30" width="1.02" height="22.45" fill="#8aa8a0"/>
<rect x="627.48" y="431.30" width="4.48" height="22.45" fill="#9c8c3a"/>
<rect x="632.11" y="431.30" width="5.69" height="22.45" fill="#73873a"/>
<rect x="623.90" y="453.80" width="0.57" height="22.45" fill="#73873a"/>
<rect x="624.60" y="453.80" width="0.79" height="22.45" fill="#5fc878"/>
<rect x="625.39" y="453.80" width="0.48" height="22.45" fill="#2f7d62"/>
<rect x="625.97" y="453.80" width="1.31" height="22.45" fill="#c890e0"/>
<rect x="627.48" y="453.80" width="4.07" height="22.45" fill="#b09040"/>
<rect x="631.62" y="453.80" width="0.48" height="22.45" fill="#b0a890"/>
<rect x="632.18" y="453.80" width="5.62" height="22.45" fill="#d9a84c"/>
<rect x="623.93" y="476.30" width="0.73" height="22.45" fill="#8fc070"/>
<rect x="624.85" y="476.30" width="0.89" height="22.45" fill="#c8ece8"/>
<rect x="625.97" y="476.30" width="1.31" height="22.45" fill="#e890a8"/>
<rect x="627.43" y="476.30" width="0.53" height="22.45" fill="#f0e0a0"/>
<rect x="628.06" y="476.30" width="3.52" height="22.45" fill="#b09040"/>
<rect x="632.31" y="476.30" width="0.53" height="22.45" fill="#b888d8"/>
<rect x="632.98" y="476.30" width="4.82" height="22.45" fill="#e03a78"/>
<rect x="625.38" y="498.80" width="0.73" height="22.45" fill="#8fc070"/>
<rect x="626.51" y="498.80" width="1.30" height="22.45" fill="#a8c8e0"/>
<rect x="628.06" y="498.80" width="3.52" height="22.45" fill="#2f7d62"/>
<rect x="631.67" y="498.80" width="0.54" height="22.45" fill="#e8dc98"/>
<rect x="632.31" y="498.80" width="0.53" height="22.45" fill="#8a9a40"/>
<rect x="632.98" y="498.80" width="2.85" height="22.45" fill="#a8a840"/>
<rect x="636.09" y="498.80" width="1.71" height="22.45" fill="#f4a0c0"/>
<rect x="627.65" y="521.30" width="3.93" height="22.45" fill="#2f7d62"/>
<rect x="632.11" y="521.30" width="0.73" height="22.45" fill="#d8c0f0"/>
<rect x="633.13" y="521.30" width="2.70" height="22.45" fill="#7a5a25"/>
<rect x="636.46" y="521.30" width="1.34" height="22.45" fill="#8a6530"/>
<rect x="627.65" y="543.80" width="0.90" height="22.45" fill="#c080e0"/>
<rect x="636.20" y="543.80" width="1.60" height="22.45" fill="#e86a48"/>
<rect x="636.36" y="566.30" width="0.72" height="22.45" fill="#5fb8a8"/>
<rect x="637.01" y="566.30" width="0.79" height="22.45" fill="#e84a78"/>
<rect x="636.50" y="588.80" width="1.30" height="22.45" fill="#2f7d4a"/>
<rect x="636.65" y="611.30" width="1.15" height="22.45" fill="#e85aa0"/>
<rect x="635.93" y="633.80" width="1.87" height="22.45" fill="#6cc4c8"/>
<rect x="646.00" y="138.80" width="16.60" height="22.45" fill="#9b632f"/>
<rect x="669.80" y="116.30" width="2.10" height="22.45" fill="#c9944a"/>
<rect x="674.00" y="116.30" width="2.20" height="22.45" fill="#c9944a"/>
<rect x="682.80" y="138.80" width="2.90" height="22.55" fill="#d896ee"/>
<rect x="682.80" y="161.30" width="2.90" height="22.55" fill="#357b8e"/>
<rect x="682.80" y="183.80" width="2.90" height="22.55" fill="#55933a"/>
<rect x="682.80" y="206.30" width="2.90" height="22.55" fill="#f5a88f"/>
<rect x="682.80" y="228.80" width="2.90" height="22.55" fill="#3f7bcb"/>
<rect x="682.80" y="251.30" width="2.90" height="22.55" fill="#e0613c"/>
<rect x="683.80" y="273.80" width="1.70" height="22.55" fill="#ae96ea"/>
<rect x="683.80" y="296.30" width="1.70" height="22.55" fill="#e0613c"/>
<rect x="683.80" y="318.80" width="1.70" height="22.55" fill="#e36c3d"/>
<rect x="683.80" y="341.30" width="1.70" height="22.55" fill="#e4704f"/>
<rect x="684.00" y="363.80" width="1.70" height="22.55" fill="#4b8fc9"/>
<rect x="684.00" y="386.30" width="1.70" height="22.55" fill="#cfd07a"/>
<rect x="684.00" y="408.80" width="1.70" height="22.55" fill="#e887ec"/>
<rect x="684.00" y="431.30" width="1.70" height="22.55" fill="#6cc4d4"/>
<rect x="684.00" y="453.80" width="0.85" height="22.55" fill="#d0cc98" opacity="0.9"/>
<rect x="684.80" y="453.80" width="0.90" height="22.55" fill="#84cfc9" opacity="0.9"/>
<rect x="684.80" y="476.30" width="0.90" height="22.55" fill="#6faca4" opacity="0.9"/>
<rect x="684.80" y="498.80" width="0.90" height="22.55" fill="#80b45c" opacity="0.9"/>
<rect x="689.00" y="138.80" width="1.80" height="22.55" fill="#d896ee"/>
<rect x="689.00" y="161.30" width="1.80" height="22.55" fill="#357b8e"/>
<rect x="689.00" y="183.80" width="1.80" height="22.55" fill="#55933a"/>
<rect x="689.00" y="206.30" width="1.80" height="22.55" fill="#f5a88f"/>
<rect x="689.00" y="228.80" width="1.80" height="22.55" fill="#3f7bcb"/>
<rect x="689.00" y="251.30" width="1.80" height="22.55" fill="#e0613c"/>
<rect x="689.60" y="273.80" width="1.30" height="22.55" fill="#ae96ea"/>
<rect x="689.60" y="296.30" width="1.30" height="22.55" fill="#e0613c"/>
<rect x="689.60" y="318.80" width="1.30" height="22.55" fill="#e36c3d"/>
<rect x="689.60" y="341.30" width="1.30" height="22.55" fill="#e4704f"/>
<rect x="689.90" y="363.80" width="1.20" height="22.55" fill="#4b8fc9"/>
<rect x="689.90" y="386.30" width="1.20" height="22.55" fill="#cfd07a"/>
<rect x="689.90" y="408.80" width="1.20" height="22.55" fill="#e887ec"/>
<rect x="689.90" y="431.30" width="1.20" height="22.55" fill="#6cc4d4"/>
<rect x="689.40" y="453.80" width="0.85" height="22.55" fill="#d0cc98" opacity="0.9"/>
<rect x="690.20" y="453.80" width="0.90" height="22.55" fill="#84cfc9" opacity="0.9"/>
<rect x="690.20" y="476.30" width="0.90" height="22.55" fill="#6faca4" opacity="0.9"/>
<rect x="690.20" y="498.80" width="0.90" height="22.55" fill="#80b45c" opacity="0.9"/>
<rect x="694.10" y="138.80" width="1.80" height="22.55" fill="#d896ee" opacity="0.7"/>
<rect x="694.10" y="161.30" width="1.80" height="22.55" fill="#357b8e" opacity="0.7"/>
<rect x="694.10" y="183.80" width="1.80" height="22.55" fill="#55933a" opacity="0.7"/>
<rect x="694.10" y="206.30" width="1.80" height="22.55" fill="#f5a88f" opacity="0.7"/>
<rect x="694.10" y="228.80" width="1.80" height="22.55" fill="#3f7bcb" opacity="0.7"/>
<rect x="694.10" y="251.30" width="1.80" height="22.55" fill="#e0613c" opacity="0.7"/>
<rect x="694.30" y="273.80" width="1.50" height="22.55" fill="#ae96ea" opacity="0.7"/>
<rect x="694.30" y="296.30" width="1.50" height="22.55" fill="#e0613c" opacity="0.7"/>
<rect x="694.30" y="318.80" width="1.50" height="22.55" fill="#e36c3d" opacity="0.7"/>
<rect x="694.30" y="341.30" width="1.50" height="22.55" fill="#e4704f" opacity="0.7"/>
<rect x="694.30" y="363.80" width="1.50" height="22.55" fill="#4b8fc9" opacity="0.7"/>
<rect x="694.30" y="386.30" width="1.50" height="22.55" fill="#cfd07a" opacity="0.7"/>
<rect x="694.30" y="408.80" width="1.50" height="22.55" fill="#e887ec" opacity="0.7"/>
<rect x="694.30" y="431.30" width="1.50" height="22.55" fill="#6cc4d4" opacity="0.7"/>
<rect x="694.10" y="453.80" width="0.85" height="22.55" fill="#d0cc98" opacity="0.7"/>
<rect x="694.90" y="453.80" width="0.90" height="22.55" fill="#84cfc9" opacity="0.7"/>
<rect x="694.90" y="476.30" width="0.90" height="22.55" fill="#6faca4" opacity="0.7"/>
<rect x="694.90" y="498.80" width="0.90" height="22.55" fill="#80b45c" opacity="0.7"/>
<rect x="698.80" y="138.80" width="1.40" height="22.55" fill="#d896ee" opacity="0.8"/>
<rect x="698.80" y="161.30" width="1.40" height="22.55" fill="#357b8e" opacity="0.8"/>
<rect x="698.80" y="183.80" width="1.40" height="22.55" fill="#55933a" opacity="0.8"/>
<rect x="698.80" y="206.30" width="1.40" height="22.55" fill="#f5a88f" opacity="0.8"/>
<rect x="698.80" y="228.80" width="1.40" height="22.55" fill="#3f7bcb" opacity="0.8"/>
<rect x="698.80" y="251.30" width="1.40" height="22.55" fill="#e0613c" opacity="0.8"/>
<rect x="698.80" y="273.80" width="1.20" height="22.55" fill="#ae96ea" opacity="0.8"/>
<rect x="698.80" y="296.30" width="1.20" height="22.55" fill="#e0613c" opacity="0.8"/>
<rect x="698.80" y="318.80" width="1.20" height="22.55" fill="#e36c3d" opacity="0.8"/>
<rect x="698.80" y="341.30" width="1.20" height="22.55" fill="#e4704f" opacity="0.8"/>
<rect x="698.80" y="363.80" width="1.20" height="22.55" fill="#4b8fc9" opacity="0.8"/>
<rect x="698.80" y="386.30" width="1.20" height="22.55" fill="#cfd07a" opacity="0.8"/>
<rect x="698.80" y="408.80" width="1.20" height="22.55" fill="#e887ec" opacity="0.8"/>
<rect x="698.80" y="431.30" width="1.20" height="22.55" fill="#6cc4d4" opacity="0.8"/>
<rect x="698.30" y="453.80" width="0.85" height="22.55" fill="#d0cc98" opacity="0.8"/>
<rect x="699.10" y="453.80" width="0.90" height="22.55" fill="#84cfc9" opacity="0.8"/>
<rect x="699.10" y="476.30" width="0.90" height="22.55" fill="#6faca4" opacity="0.8"/>
<rect x="699.10" y="498.80" width="0.90" height="22.55" fill="#80b45c" opacity="0.8"/>
<rect x="704.20" y="116.30" width="12.80" height="22.45" fill="#f4aeb1"/>
<rect x="720.20" y="116.30" width="2.60" height="22.45" fill="#35808f"/>
<rect x="722.90" y="116.30" width="30.80" height="22.45" fill="#ee9dd8"/>
<rect x="704.80" y="138.80" width="12.20" height="22.45" fill="#d896ee"/>
<rect x="704.92" y="161.30" width="12.08" height="22.45" fill="#357b8e"/>
<rect x="705.04" y="183.80" width="11.96" height="22.45" fill="#55933a"/>
<rect x="705.16" y="206.30" width="11.84" height="22.45" fill="#f5a88f"/>
<rect x="705.28" y="228.80" width="11.72" height="22.45" fill="#3f7bcb"/>
<rect x="705.40" y="251.30" width="11.60" height="22.45" fill="#e0613c"/>
<rect x="705.80" y="273.80" width="11.00" height="22.45" fill="#ae96ea"/>
<rect x="705.80" y="296.30" width="11.00" height="22.45" fill="#47a878"/>
<rect x="705.80" y="318.80" width="11.00" height="22.45" fill="#e36c3d"/>
<rect x="705.80" y="341.30" width="11.00" height="22.45" fill="#e0603b"/>
<rect x="706.10" y="363.80" width="10.60" height="22.45" fill="#9b30b8"/>
<rect x="706.10" y="386.30" width="10.60" height="22.45" fill="#3f968f"/>
<rect x="706.10" y="408.80" width="10.60" height="22.45" fill="#9a83e6"/>
<rect x="706.10" y="431.30" width="0.74" height="22.45" fill="#a8a060"/>
<rect x="706.95" y="431.30" width="1.48" height="22.45" fill="#dc3a87"/>
<rect x="708.64" y="431.30" width="0.74" height="22.45" fill="#8a9ab8"/>
<rect x="709.76" y="431.30" width="3.23" height="22.45" fill="#9c8c3a"/>
<rect x="713.20" y="431.30" width="3.50" height="22.45" fill="#73873a"/>
<rect x="706.42" y="453.80" width="1.80" height="22.45" fill="#5aa860"/>
<rect x="708.43" y="453.80" width="0.95" height="22.45" fill="#2f7d62"/>
<rect x="709.49" y="453.80" width="0.53" height="22.45" fill="#d88090"/>
<rect x="710.18" y="453.80" width="2.70" height="22.45" fill="#b09040"/>
<rect x="712.99" y="453.80" width="0.90" height="22.45" fill="#b0a8c8"/>
<rect x="714.03" y="453.80" width="2.67" height="22.45" fill="#d9a84c"/>
<rect x="706.84" y="476.30" width="0.78" height="22.45" fill="#8fc070"/>
<rect x="708.54" y="476.30" width="0.64" height="22.45" fill="#c8e0e0"/>
<rect x="709.34" y="476.30" width="1.00" height="22.45" fill="#f090a0"/>
<rect x="710.45" y="476.30" width="2.54" height="22.45" fill="#b09040"/>
<rect x="713.10" y="476.30" width="0.74" height="22.45" fill="#e0d0e0"/>
<rect x="713.99" y="476.30" width="2.71" height="22.45" fill="#e03a78"/>
<rect x="708.69" y="498.80" width="0.66" height="22.45" fill="#8a9a40"/>
<rect x="709.49" y="498.80" width="0.64" height="22.45" fill="#c070a0"/>
<rect x="710.34" y="498.80" width="1.80" height="22.45" fill="#2f7d62"/>
<rect x="712.99" y="498.80" width="1.12" height="22.45" fill="#8fc8a8"/>
<rect x="714.11" y="498.80" width="0.68" height="22.45" fill="#a8a840"/>
<rect x="715.11" y="498.80" width="1.59" height="22.45" fill="#f4a0c0"/>
<rect x="710.34" y="521.30" width="2.44" height="22.45" fill="#2f7d62"/>
<rect x="713.94" y="521.30" width="0.64" height="22.45" fill="#d8c0f0"/>
<rect x="715.32" y="521.30" width="1.38" height="22.45" fill="#7a5a25"/>
<rect x="710.34" y="543.80" width="0.90" height="22.45" fill="#c080e0"/>
<rect x="715.60" y="543.80" width="1.10" height="22.45" fill="#e86a48"/>
<rect x="715.70" y="566.30" width="0.50" height="22.45" fill="#5fb8a8"/>
<rect x="716.15" y="566.30" width="0.55" height="22.45" fill="#e84a78"/>
<rect x="715.80" y="588.80" width="0.90" height="22.45" fill="#2f7d4a"/>
<rect x="715.90" y="611.30" width="0.80" height="22.45" fill="#e85aa0"/>
<rect x="715.10" y="633.80" width="1.60" height="22.45" fill="#6cc4c8"/>
<rect x="726.00" y="138.80" width="25.20" height="22.45" fill="#9b632f"/>
<rect x="763.10" y="116.30" width="4.70" height="22.45" fill="#c9944a"/>
<rect x="772.90" y="116.30" width="3.20" height="22.45" fill="#c9944a"/>
<rect x="792.00" y="138.80" width="6.80" height="22.55" fill="#d896ee"/>
<rect x="792.15" y="161.30" width="6.65" height="22.55" fill="#357b8e"/>
<rect x="792.30" y="183.80" width="6.50" height="22.55" fill="#55933a"/>
<rect x="792.45" y="206.30" width="6.35" height="22.55" fill="#f5a88f"/>
<rect x="792.60" y="228.80" width="6.20" height="22.55" fill="#3f7bcb"/>
<rect x="792.75" y="251.30" width="6.05" height="22.55" fill="#e0613c"/>
<rect x="792.90" y="273.80" width="5.70" height="22.55" fill="#ae96ea"/>
<rect x="793.80" y="296.30" width="4.80" height="22.55" fill="#e0613c"/>
<rect x="793.80" y="318.80" width="4.80" height="22.55" fill="#e36c3d"/>
<rect x="793.80" y="341.30" width="4.80" height="22.55" fill="#e4704f"/>
<rect x="796.40" y="363.80" width="2.20" height="22.55" fill="#4b8fc9"/>
<rect x="796.40" y="386.30" width="2.20" height="22.55" fill="#cfd07a"/>
<rect x="796.40" y="408.80" width="2.20" height="22.55" fill="#e887ec"/>
<rect x="796.40" y="431.30" width="2.20" height="22.55" fill="#6cc4d4"/>
<rect x="796.90" y="453.80" width="0.85" height="22.55" fill="#d0cc98" opacity="0.9"/>
<rect x="797.70" y="453.80" width="0.90" height="22.55" fill="#84cfc9" opacity="0.9"/>
<rect x="797.70" y="476.30" width="0.90" height="22.55" fill="#6faca4" opacity="0.9"/>
<rect x="797.70" y="498.80" width="0.90" height="22.55" fill="#80b45c" opacity="0.9"/>
<rect x="809.10" y="138.80" width="3.90" height="22.55" fill="#d896ee"/>
<rect x="809.25" y="161.30" width="3.75" height="22.55" fill="#357b8e"/>
<rect x="809.40" y="183.80" width="3.60" height="22.55" fill="#55933a"/>
<rect x="809.55" y="206.30" width="3.45" height="22.55" fill="#f5a88f"/>
<rect x="809.70" y="228.80" width="3.30" height="22.55" fill="#3f7bcb"/>
<rect x="809.85" y="251.30" width="3.15" height="22.55" fill="#e0613c"/>
<rect x="809.70" y="273.80" width="3.20" height="22.55" fill="#ae96ea"/>
<rect x="810.30" y="296.30" width="2.60" height="22.55" fill="#e0613c"/>
<rect x="810.30" y="318.80" width="2.60" height="22.55" fill="#e36c3d"/>
<rect x="810.30" y="341.30" width="2.60" height="22.55" fill="#e4704f"/>
<rect x="810.90" y="363.80" width="1.70" height="22.55" fill="#4b8fc9"/>
<rect x="810.90" y="386.30" width="1.70" height="22.55" fill="#cfd07a"/>
<rect x="810.90" y="408.80" width="1.70" height="22.55" fill="#e887ec"/>
<rect x="810.90" y="431.30" width="1.70" height="22.55" fill="#6cc4d4"/>
<rect x="810.90" y="453.80" width="0.85" height="22.55" fill="#d0cc98" opacity="0.9"/>
<rect x="811.70" y="453.80" width="0.90" height="22.55" fill="#84cfc9" opacity="0.9"/>
<rect x="811.70" y="476.30" width="0.90" height="22.55" fill="#6faca4" opacity="0.9"/>
<rect x="811.70" y="498.80" width="0.90" height="22.55" fill="#80b45c" opacity="0.9"/>
<rect x="819.00" y="138.80" width="3.30" height="22.55" fill="#d896ee"/>
<rect x="819.15" y="161.30" width="3.15" height="22.55" fill="#357b8e"/>
<rect x="819.30" y="183.80" width="3.00" height="22.55" fill="#55933a"/>
<rect x="819.45" y="206.30" width="2.85" height="22.55" fill="#f5a88f"/>
<rect x="819.60" y="228.80" width="2.70" height="22.55" fill="#3f7bcb"/>
<rect x="819.75" y="251.30" width="2.55" height="22.55" fill="#e0613c"/>
<rect x="819.50" y="273.80" width="2.60" height="22.55" fill="#ae96ea"/>
<rect x="820.00" y="296.30" width="2.10" height="22.55" fill="#e0613c"/>
<rect x="820.00" y="318.80" width="2.10" height="22.55" fill="#e36c3d"/>
<rect x="820.00" y="341.30" width="2.10" height="22.55" fill="#e4704f"/>
<rect x="820.40" y="363.80" width="1.50" height="22.55" fill="#4b8fc9"/>
<rect x="820.40" y="386.30" width="1.50" height="22.55" fill="#cfd07a"/>
<rect x="820.40" y="408.80" width="1.50" height="22.55" fill="#e887ec"/>
<rect x="820.40" y="431.30" width="1.50" height="22.55" fill="#6cc4d4"/>
<rect x="820.20" y="453.80" width="0.85" height="22.55" fill="#d0cc98" opacity="0.9"/>
<rect x="821.00" y="453.80" width="0.90" height="22.55" fill="#84cfc9" opacity="0.9"/>
<rect x="821.00" y="476.30" width="0.90" height="22.55" fill="#6faca4" opacity="0.9"/>
<rect x="821.00" y="498.80" width="0.90" height="22.55" fill="#80b45c" opacity="0.9"/>
<rect x="828.30" y="138.80" width="3.80" height="22.55" fill="#d896ee"/>
<rect x="828.45" y="161.30" width="3.65" height="22.55" fill="#357b8e"/>
<rect x="828.60" y="183.80" width="3.50" height="22.55" fill="#55933a"/>
<rect x="828.75" y="206.30" width="3.35" height="22.55" fill="#f5a88f"/>
<rect x="828.90" y="228.80" width="3.20" height="22.55" fill="#3f7bcb"/>
<rect x="829.05" y="251.30" width="3.05" height="22.55" fill="#e0613c"/>
<rect x="829.15" y="273.80" width="2.75" height="22.55" fill="#ae96ea"/>
<rect x="830.00" y="296.30" width="1.90" height="22.55" fill="#e0613c"/>
<rect x="830.00" y="318.80" width="1.90" height="22.55" fill="#e36c3d"/>
<rect x="830.00" y="341.30" width="1.90" height="22.55" fill="#e4704f"/>
<rect x="830.50" y="363.80" width="1.40" height="22.55" fill="#4b8fc9"/>
<rect x="830.50" y="386.30" width="1.40" height="22.55" fill="#cfd07a"/>
<rect x="830.50" y="408.80" width="1.40" height="22.55" fill="#e887ec"/>
<rect x="830.50" y="431.30" width="1.40" height="22.55" fill="#6cc4d4"/>
<rect x="830.20" y="453.80" width="0.85" height="22.55" fill="#d0cc98" opacity="0.9"/>
<rect x="831.00" y="453.80" width="0.90" height="22.55" fill="#84cfc9" opacity="0.9"/>
<rect x="831.00" y="476.30" width="0.90" height="22.55" fill="#6faca4" opacity="0.9"/>
<rect x="831.00" y="498.80" width="0.90" height="22.55" fill="#80b45c" opacity="0.9"/>
<rect x="839.60" y="116.30" width="29.60" height="22.45" fill="#f4aeb1"/>
<rect x="869.90" y="116.30" width="4.10" height="22.45" fill="#35808f"/>
<rect x="874.40" y="116.30" width="23.40" height="22.45" fill="#ee9dd8"/>
<rect x="839.70" y="138.80" width="29.00" height="22.45" fill="#d896ee"/>
<rect x="839.82" y="161.30" width="28.88" height="22.45" fill="#357b8e"/>
<rect x="839.94" y="183.80" width="28.76" height="22.45" fill="#55933a"/>
<rect x="840.06" y="206.30" width="28.64" height="22.45" fill="#f5a88f"/>
<rect x="840.18" y="228.80" width="28.52" height="22.45" fill="#3f7bcb"/>
<rect x="840.30" y="251.30" width="28.40" height="22.45" fill="#e0613c"/>
<rect x="840.80" y="273.80" width="27.10" height="22.45" fill="#ae96ea"/>
<rect x="840.80" y="296.30" width="27.10" height="22.45" fill="#47a878"/>
<rect x="840.80" y="318.80" width="27.10" height="22.45" fill="#e36c3d"/>
<rect x="840.80" y="341.30" width="27.10" height="22.45" fill="#e0603b"/>
<rect x="842.00" y="363.80" width="25.80" height="22.45" fill="#9b30b8"/>
<rect x="842.00" y="386.30" width="25.80" height="22.45" fill="#3f968f"/>
<rect x="842.80" y="408.80" width="25.00" height="22.45" fill="#9a83e6"/>
<rect x="843.10" y="431.30" width="0.90" height="22.45" fill="#73873a"/>
<rect x="844.10" y="431.30" width="0.70" height="22.45" fill="#d8a8b8"/>
<rect x="844.90" y="431.30" width="2.30" height="22.45" fill="#dc3a87"/>
<rect x="847.30" y="431.30" width="0.60" height="22.45" fill="#d0c0f0"/>
<rect x="848.00" y="431.30" width="0.70" height="22.45" fill="#8fc0e8"/>
<rect x="849.00" y="431.30" width="1.20" height="22.45" fill="#2f7d62"/>
<rect x="850.50" y="431.30" width="8.20" height="22.45" fill="#a08c3c"/>
<rect x="859.00" y="431.30" width="8.80" height="22.45" fill="#73873a"/>
<rect x="843.20" y="453.80" width="1.70" height="22.45" fill="#6aaa5a"/>
<rect x="845.00" y="453.80" width="0.90" height="22.45" fill="#e8b0c0"/>
<rect x="846.00" y="453.80" width="2.30" height="22.45" fill="#5fb870"/>
<rect x="849.00" y="453.80" width="1.70" height="22.45" fill="#a030b0"/>
<rect x="850.90" y="453.80" width="7.80" height="22.45" fill="#b09040"/>
<rect x="859.00" y="453.80" width="0.90" height="22.45" fill="#b0a8d8"/>
<rect x="860.10" y="453.80" width="7.70" height="22.45" fill="#d9a84c"/>
<rect x="844.10" y="476.30" width="0.70" height="22.45" fill="#7fb870"/>
<rect x="847.20" y="476.30" width="0.70" height="22.45" fill="#8fd0c8"/>
<rect x="849.00" y="476.30" width="1.10" height="22.45" fill="#c0305a"/>
<rect x="850.20" y="476.30" width="0.60" height="22.45" fill="#d0c0f0"/>
<rect x="851.00" y="476.30" width="7.70" height="22.45" fill="#b09040"/>
<rect x="859.00" y="476.30" width="1.40" height="22.45" fill="#c8b0e8"/>
<rect x="860.60" y="476.30" width="7.20" height="22.45" fill="#e03a78"/>
<rect x="847.20" y="498.80" width="0.70" height="22.45" fill="#8fc070"/>
<rect x="849.00" y="498.80" width="1.00" height="22.45" fill="#8a5a2a"/>
<rect x="850.10" y="498.80" width="0.90" height="22.45" fill="#b8c0f0"/>
<rect x="851.20" y="498.80" width="6.60" height="22.45" fill="#2f7d62"/>
<rect x="858.00" y="498.80" width="1.00" height="22.45" fill="#e0d080"/>
<rect x="859.70" y="498.80" width="1.10" height="22.45" fill="#6a9a9a"/>
<rect x="860.90" y="498.80" width="2.20" height="22.45" fill="#a8a838"/>
<rect x="863.20" y="498.80" width="0.60" height="22.45" fill="#f0c0a0"/>
<rect x="863.90" y="498.80" width="0.90" height="22.45" fill="#7f98b8"/>
<rect x="865.00" y="498.80" width="2.80" height="22.45" fill="#f48fb8"/>
<rect x="852.10" y="521.30" width="5.70" height="22.45" fill="#2f7d62"/>
<rect x="858.00" y="521.30" width="0.70" height="22.45" fill="#a8d890"/>
<rect x="859.80" y="521.30" width="1.00" height="22.45" fill="#e0d0f8"/>
<rect x="861.10" y="521.30" width="2.30" height="22.45" fill="#7a5a25"/>
<rect x="865.00" y="521.30" width="2.80" height="22.45" fill="#8a6530"/>
<rect x="851.80" y="543.80" width="0.90" height="22.45" fill="#c080e0"/>
<rect x="864.90" y="543.80" width="2.80" height="22.45" fill="#e86a48"/>
<rect x="865.00" y="566.30" width="2.70" height="22.45" fill="#e84a62"/>
<rect x="865.30" y="588.80" width="0.60" height="22.45" fill="#a07040"/>
<rect x="865.90" y="588.80" width="1.80" height="22.45" fill="#4a8a5a"/>
<rect x="866.00" y="611.30" width="1.50" height="22.45" fill="#f48fb8"/>
<rect x="865.30" y="633.80" width="2.40" height="22.45" fill="#8fd0d0"/>
<rect x="881.10" y="138.80" width="14.90" height="22.45" fill="#9b632f"/>
<rect x="900.40" y="116.30" width="1.70" height="22.45" fill="#c9944a"/>
<rect x="904.20" y="116.30" width="1.70" height="22.45" fill="#c9944a"/>
<rect x="911.00" y="138.80" width="2.50" height="22.55" fill="#d896ee" opacity="0.9"/>
<rect x="911.00" y="161.30" width="2.50" height="22.55" fill="#357b8e" opacity="0.9"/>
<rect x="911.00" y="183.80" width="2.50" height="22.55" fill="#55933a" opacity="0.9"/>
<rect x="911.00" y="206.30" width="2.50" height="22.55" fill="#f5a88f" opacity="0.9"/>
<rect x="911.00" y="228.80" width="2.50" height="22.55" fill="#3f7bcb" opacity="0.9"/>
<rect x="911.00" y="251.30" width="2.50" height="22.55" fill="#e0613c" opacity="0.9"/>
<rect x="911.10" y="273.80" width="2.30" height="22.55" fill="#ae96ea" opacity="0.9"/>
<rect x="911.10" y="296.30" width="2.30" height="22.55" fill="#e0613c" opacity="0.9"/>
<rect x="911.10" y="318.80" width="2.30" height="22.55" fill="#e36c3d" opacity="0.9"/>
<rect x="911.10" y="341.30" width="2.30" height="22.55" fill="#e4704f" opacity="0.9"/>
<rect x="911.20" y="363.80" width="1.90" height="22.55" fill="#4b8fc9" opacity="0.9"/>
<rect x="911.20" y="386.30" width="1.90" height="22.55" fill="#cfd07a" opacity="0.9"/>
<rect x="911.20" y="408.80" width="1.90" height="22.55" fill="#e887ec" opacity="0.9"/>
<rect x="911.20" y="431.30" width="1.90" height="22.55" fill="#6cc4d4" opacity="0.9"/>
<rect x="911.40" y="453.80" width="0.85" height="22.55" fill="#d0cc98" opacity="0.9"/>
<rect x="912.20" y="453.80" width="0.90" height="22.55" fill="#84cfc9" opacity="0.9"/>
<rect x="912.20" y="476.30" width="0.90" height="22.55" fill="#6faca4" opacity="0.9"/>
<rect x="912.20" y="498.80" width="0.90" height="22.55" fill="#80b45c" opacity="0.9"/>
<rect x="916.80" y="138.80" width="1.80" height="22.55" fill="#d896ee" opacity="0.7"/>
<rect x="916.80" y="161.30" width="1.80" height="22.55" fill="#357b8e" opacity="0.7"/>
<rect x="916.80" y="183.80" width="1.80" height="22.55" fill="#55933a" opacity="0.7"/>
<rect x="916.80" y="206.30" width="1.80" height="22.55" fill="#f5a88f" opacity="0.7"/>
<rect x="916.80" y="228.80" width="1.80" height="22.55" fill="#3f7bcb" opacity="0.7"/>
<rect x="916.80" y="251.30" width="1.80" height="22.55" fill="#e0613c" opacity="0.7"/>
<rect x="916.90" y="273.80" width="2.00" height="22.55" fill="#ae96ea" opacity="0.7"/>
<rect x="916.90" y="296.30" width="2.00" height="22.55" fill="#e0613c" opacity="0.7"/>
<rect x="916.90" y="318.80" width="2.00" height="22.55" fill="#e36c3d" opacity="0.7"/>
<rect x="916.90" y="341.30" width="2.00" height="22.55" fill="#e4704f" opacity="0.7"/>
<rect x="916.90" y="363.80" width="2.00" height="22.55" fill="#4b8fc9" opacity="0.7"/>
<rect x="916.90" y="386.30" width="2.00" height="22.55" fill="#cfd07a" opacity="0.7"/>
<rect x="916.90" y="408.80" width="2.00" height="22.55" fill="#e887ec" opacity="0.7"/>
<rect x="916.90" y="431.30" width="2.00" height="22.55" fill="#6cc4d4" opacity="0.7"/>
<rect x="917.20" y="453.80" width="0.85" height="22.55" fill="#d0cc98" opacity="0.7"/>
<rect x="918.00" y="453.80" width="0.90" height="22.55" fill="#84cfc9" opacity="0.7"/>
<rect x="918.00" y="476.30" width="0.90" height="22.55" fill="#6faca4" opacity="0.7"/>
<rect x="918.00" y="498.80" width="0.90" height="22.55" fill="#80b45c" opacity="0.7"/>
<rect x="920.60" y="138.80" width="1.40" height="22.55" fill="#d896ee" opacity="0.8"/>
<rect x="920.60" y="161.30" width="1.40" height="22.55" fill="#357b8e" opacity="0.8"/>
<rect x="920.60" y="183.80" width="1.40" height="22.55" fill="#55933a" opacity="0.8"/>
<rect x="920.60" y="206.30" width="1.40" height="22.55" fill="#f5a88f" opacity="0.8"/>
<rect x="920.60" y="228.80" width="1.40" height="22.55" fill="#3f7bcb" opacity="0.8"/>
<rect x="920.60" y="251.30" width="1.40" height="22.55" fill="#e0613c" opacity="0.8"/>
<rect x="920.90" y="273.80" width="1.30" height="22.55" fill="#ae96ea" opacity="0.8"/>
<rect x="920.90" y="296.30" width="1.30" height="22.55" fill="#e0613c" opacity="0.8"/>
<rect x="920.90" y="318.80" width="1.30" height="22.55" fill="#e36c3d" opacity="0.8"/>
<rect x="920.90" y="341.30" width="1.30" height="22.55" fill="#e4704f" opacity="0.8"/>
<rect x="920.90" y="363.80" width="1.30" height="22.55" fill="#4b8fc9" opacity="0.8"/>
<rect x="920.90" y="386.30" width="1.30" height="22.55" fill="#cfd07a" opacity="0.8"/>
<rect x="920.90" y="408.80" width="1.30" height="22.55" fill="#e887ec" opacity="0.8"/>
<rect x="920.90" y="431.30" width="1.30" height="22.55" fill="#6cc4d4" opacity="0.8"/>
<rect x="920.50" y="453.80" width="0.85" height="22.55" fill="#d0cc98" opacity="0.8"/>
<rect x="921.30" y="453.80" width="0.90" height="22.55" fill="#84cfc9" opacity="0.8"/>
<rect x="921.30" y="476.30" width="0.90" height="22.55" fill="#6faca4" opacity="0.8"/>
<rect x="921.30" y="498.80" width="0.90" height="22.55" fill="#80b45c" opacity="0.8"/>
<rect x="924.00" y="138.80" width="2.00" height="22.55" fill="#d896ee" opacity="0.7"/>
<rect x="924.00" y="161.30" width="2.00" height="22.55" fill="#357b8e" opacity="0.7"/>
<rect x="924.00" y="183.80" width="2.00" height="22.55" fill="#55933a" opacity="0.7"/>
<rect x="924.00" y="206.30" width="2.00" height="22.55" fill="#f5a88f" opacity="0.7"/>
<rect x="924.00" y="228.80" width="2.00" height="22.55" fill="#3f7bcb" opacity="0.7"/>
<rect x="924.00" y="251.30" width="2.00" height="22.55" fill="#e0613c" opacity="0.7"/>
<rect x="924.00" y="273.80" width="2.10" height="22.55" fill="#ae96ea" opacity="0.7"/>
<rect x="924.00" y="296.30" width="2.10" height="22.55" fill="#e0613c" opacity="0.7"/>
<rect x="924.00" y="318.80" width="2.10" height="22.55" fill="#e36c3d" opacity="0.7"/>
<rect x="924.00" y="341.30" width="2.10" height="22.55" fill="#e4704f" opacity="0.7"/>
<rect x="924.00" y="363.80" width="2.10" height="22.55" fill="#4b8fc9" opacity="0.7"/>
<rect x="924.00" y="386.30" width="2.10" height="22.55" fill="#cfd07a" opacity="0.7"/>
<rect x="924.00" y="408.80" width="2.10" height="22.55" fill="#e887ec" opacity="0.7"/>
<rect x="924.00" y="431.30" width="2.10" height="22.55" fill="#6cc4d4" opacity="0.7"/>
<rect x="924.40" y="453.80" width="0.85" height="22.55" fill="#d0cc98" opacity="0.7"/>
<rect x="925.20" y="453.80" width="0.90" height="22.55" fill="#84cfc9" opacity="0.7"/>
<rect x="925.20" y="476.30" width="0.90" height="22.55" fill="#6faca4" opacity="0.7"/>
<rect x="925.20" y="498.80" width="0.90" height="22.55" fill="#80b45c" opacity="0.7"/>
<rect x="93.00" y="431.30" width="1.60" height="22.45" fill="#6cc4d4"/>
<rect x="95.50" y="431.30" width="90.50" height="22.45" fill="#dc3a87"/>
<rect x="190.40" y="431.30" width="0.50" height="22.45" fill="#b8c0f0"/>
<rect x="194.40" y="431.30" width="19.60" height="22.45" fill="#2f7d62"/>
<rect x="214.40" y="431.30" width="72.80" height="22.45" fill="#9c8c3a"/>
<rect x="288.60" y="431.30" width="21.50" height="22.45" fill="#73873a"/>
<rect x="92.00" y="453.80" width="3.00" height="22.45" fill="#9ccc9c"/>
<rect x="166.40" y="453.80" width="0.70" height="22.45" fill="#f4b0c0"/>
<rect x="167.20" y="453.80" width="18.80" height="22.45" fill="#4fd088"/>
<rect x="190.30" y="453.80" width="0.60" height="22.45" fill="#8fc080"/>
<rect x="216.00" y="453.80" width="27.20" height="22.45" fill="#a52e8a"/>
<rect x="243.40" y="453.80" width="43.80" height="22.45" fill="#a48c3c"/>
<rect x="289.60" y="453.80" width="6.00" height="22.45" fill="#6a8be0"/>
<rect x="296.00" y="453.80" width="14.00" height="22.45" fill="#d9a84c"/>
<rect x="94.00" y="476.30" width="0.70" height="22.45" fill="#9ccc9c"/>
<rect x="196.00" y="476.30" width="17.60" height="22.45" fill="#c02f4e"/>
<rect x="246.60" y="476.30" width="40.00" height="22.45" fill="#a89040"/>
<rect x="293.60" y="476.30" width="0.80" height="22.45" fill="#f4a0c0"/>
<rect x="295.20" y="476.30" width="0.80" height="22.45" fill="#6a8be0"/>
<rect x="296.80" y="476.30" width="13.20" height="22.45" fill="#e03a80"/>
<rect x="196.00" y="498.80" width="16.00" height="22.45" fill="#b02a35"/>
<rect x="212.20" y="498.80" width="0.80" height="22.45" fill="#8fa8e8"/>
<rect x="213.70" y="476.30" width="0.70" height="22.45" fill="#a8c0f0"/>
<rect x="246.60" y="498.80" width="5.00" height="22.45" fill="#b02a30"/>
<rect x="252.00" y="498.80" width="30.20" height="22.45" fill="#2f7d62"/>
<rect x="283.00" y="498.80" width="3.20" height="22.45" fill="#bdb24c"/>
<rect x="293.00" y="498.80" width="0.70" height="22.45" fill="#9cc67c"/>
<rect x="295.00" y="498.80" width="1.00" height="22.45" fill="#c8a8e8"/>
<rect x="297.50" y="498.80" width="2.00" height="22.45" fill="#a8a040"/>
<rect x="300.40" y="498.80" width="1.00" height="22.45" fill="#9c8c3a"/>
<rect x="302.60" y="498.80" width="1.40" height="22.45" fill="#c8a070"/>
<rect x="304.60" y="498.80" width="1.40" height="22.45" fill="#f4a0c0"/>
<rect x="306.80" y="498.80" width="3.20" height="22.45" fill="#f48fb0"/>
<rect x="197.40" y="521.30" width="3.60" height="22.45" fill="#5a78e0"/>
<rect x="252.00" y="521.30" width="30.20" height="22.45" fill="#2f7d62"/>
<rect x="285.40" y="521.30" width="0.70" height="22.45" fill="#9cc67c"/>
<rect x="296.60" y="521.30" width="0.60" height="22.45" fill="#c8a8e8"/>
<rect x="300.60" y="521.30" width="2.00" height="22.45" fill="#7a5a25"/>
<rect x="307.00" y="521.30" width="2.80" height="22.45" fill="#9a7535"/>
<rect x="252.00" y="543.80" width="0.70" height="22.45" fill="#c080e0"/>
<rect x="308.00" y="543.80" width="1.90" height="22.45" fill="#e86050"/>
<rect x="307.60" y="566.30" width="1.00" height="22.45" fill="#5fb8a8"/>
<rect x="308.60" y="566.30" width="1.30" height="22.45" fill="#e84a78"/>
<rect x="308.20" y="588.80" width="1.70" height="22.45" fill="#2f7d4a"/>
<rect x="308.50" y="611.30" width="1.20" height="22.45" fill="#e85aa0"/>
<rect x="308.00" y="633.80" width="2.60" height="22.45" fill="#8fd0c8"/>
<rect x="193.90" y="450.00" width="21.90" height="29.80" fill="#3a0a4a"/>
<rect x="197.20" y="453.30" width="15.00" height="23.00" fill="#8e2fb0"/>
<text x="460.80" y="19.25" textLength="201.20" lengthAdjust="spacingAndGlyphs" fill="#fff" stroke="#fff" stroke-width="0.35">Choreographer#doFrame 1027331</text>
<rect x="51.90" y="39.75" width="1.8" height="2.0" rx="0.3" fill="#fff"/>
<rect x="54.55" y="39.75" width="1.8" height="2.0" rx="0.3" fill="#fff"/>
<rect x="57.20" y="39.75" width="1.8" height="2.0" rx="0.3" fill="#fff"/>
<text x="10.60" y="41.75" textLength="39.50" lengthAdjust="spacingAndGlyphs" fill="#fff" stroke="#fff" stroke-width="0.35">animat</text>
<text x="566.50" y="41.75" textLength="50.50" lengthAdjust="spacingAndGlyphs" fill="#fff" stroke="#fff" stroke-width="0.35">traversal</text>
<rect x="50.60" y="62.25" width="1.8" height="2.0" rx="0.3" fill="#fff"/>
<rect x="53.25" y="62.25" width="1.8" height="2.0" rx="0.3" fill="#fff"/>
<rect x="55.90" y="62.25" width="1.8" height="2.0" rx="0.3" fill="#fff"/>
<text x="19.90" y="64.25" textLength="28.90" lengthAdjust="spacingAndGlyphs" fill="#fff" stroke="#fff" stroke-width="0.35">Reco</text>
<text x="525.70" y="64.25" textLength="132.60" lengthAdjust="spacingAndGlyphs" fill="#fff" stroke="#fff" stroke-width="0.35">draw-VRI[MainActivity]</text>
<rect x="30.20" y="84.75" width="1.8" height="2.0" rx="0.3" fill="#111"/>
<rect x="32.85" y="84.75" width="1.8" height="2.0" rx="0.3" fill="#111"/>
<rect x="35.50" y="84.75" width="1.8" height="2.0" rx="0.3" fill="#111"/>
<text x="20.90" y="86.75" textLength="7.50" lengthAdjust="spacingAndGlyphs" fill="#111" stroke="#111" stroke-width="0.35">C</text>
<text x="488.70" y="86.75" textLength="119.00" lengthAdjust="spacingAndGlyphs" fill="#fff" stroke="#fff" stroke-width="0.35">Record View#draw()</text>
<text x="1037.00" y="86.75" textLength="76.00" lengthAdjust="spacingAndGlyphs" fill="#fff" stroke="#fff" stroke-width="0.35">postAndWait</text>
<text x="28.90" y="109.25" textLength="6.10" lengthAdjust="spacingAndGlyphs" fill="#fff" stroke="#fff" stroke-width="0.35">c</text>
<text x="405.20" y="109.25" textLength="200.40" lengthAdjust="spacingAndGlyphs" fill="#fff" stroke="#fff" stroke-width="0.35">AndroidOwner:measureAndLayout</text>
<text x="132.80" y="131.75" textLength="125.00" lengthAdjust="spacingAndGlyphs" fill="#111" stroke="#111" stroke-width="0.35">Compose:recompose</text>
<rect x="283.40" y="152.25" width="1.8" height="2.0" rx="0.3" fill="#111"/>
<rect x="286.05" y="152.25" width="1.8" height="2.0" rx="0.3" fill="#111"/>
<rect x="288.70" y="152.25" width="1.8" height="2.0" rx="0.3" fill="#111"/>
<text x="100.50" y="154.25" textLength="181.10" lengthAdjust="spacingAndGlyphs" fill="#111" stroke="#111" stroke-width="0.35">androidx.compose.ui.layout.La</text>
<rect x="284.90" y="174.75" width="1.8" height="2.0" rx="0.3" fill="#fff"/>
<rect x="287.55" y="174.75" width="1.8" height="2.0" rx="0.3" fill="#fff"/>
<rect x="290.20" y="174.75" width="1.8" height="2.0" rx="0.3" fill="#fff"/>
<text x="99.00" y="176.75" textLength="184.10" lengthAdjust="spacingAndGlyphs" fill="#fff" stroke="#fff" stroke-width="0.35">androidx.compose.foundation.l</text>
<rect x="284.90" y="197.25" width="1.8" height="2.0" rx="0.3" fill="#fff"/>
<rect x="287.55" y="197.25" width="1.8" height="2.0" rx="0.3" fill="#fff"/>
<rect x="290.20" y="197.25" width="1.8" height="2.0" rx="0.3" fill="#fff"/>
<text x="99.50" y="199.25" textLength="183.60" lengthAdjust="spacingAndGlyphs" fill="#fff" stroke="#fff" stroke-width="0.35">androidx.compose.foundation.l</text>
<rect x="285.40" y="219.75" width="1.8" height="2.0" rx="0.3" fill="#111"/>
<rect x="288.05" y="219.75" width="1.8" height="2.0" rx="0.3" fill="#111"/>
<rect x="290.70" y="219.75" width="1.8" height="2.0" rx="0.3" fill="#111"/>
<text x="99.50" y="221.75" textLength="184.10" lengthAdjust="spacingAndGlyphs" fill="#111" stroke="#111" stroke-width="0.35">androidx.compose.foundation.l</text>
<rect x="288.40" y="242.25" width="1.8" height="2.0" rx="0.3" fill="#fff"/>
<rect x="291.05" y="242.25" width="1.8" height="2.0" rx="0.3" fill="#fff"/>
<rect x="293.70" y="242.25" width="1.8" height="2.0" rx="0.3" fill="#fff"/>
<text x="97.50" y="244.25" textLength="189.10" lengthAdjust="spacingAndGlyphs" fill="#fff" stroke="#fff" stroke-width="0.35">androidx.compose.runtime.save</text>
<rect x="288.90" y="264.75" width="1.8" height="2.0" rx="0.3" fill="#fff"/>
<rect x="291.55" y="264.75" width="1.8" height="2.0" rx="0.3" fill="#fff"/>
<rect x="294.20" y="264.75" width="1.8" height="2.0" rx="0.3" fill="#fff"/>
<text x="98.00" y="266.75" textLength="189.10" lengthAdjust="spacingAndGlyphs" fill="#fff" stroke="#fff" stroke-width="0.35">androidx.compose.runtime.Com</text>
<rect x="285.40" y="287.25" width="1.8" height="2.0" rx="0.3" fill="#fff"/>
<rect x="288.05" y="287.25" width="1.8" height="2.0" rx="0.3" fill="#fff"/>
<rect x="290.70" y="287.25" width="1.8" height="2.0" rx="0.3" fill="#fff"/>
<text x="102.50" y="289.25" textLength="181.10" lengthAdjust="spacingAndGlyphs" fill="#fff" stroke="#fff" stroke-width="0.35">androidx.compose.foundation.</text>
<rect x="285.90" y="309.75" width="1.8" height="2.0" rx="0.3" fill="#fff"/>
<rect x="288.55" y="309.75" width="1.8" height="2.0" rx="0.3" fill="#fff"/>
<rect x="291.20" y="309.75" width="1.8" height="2.0" rx="0.3" fill="#fff"/>
<text x="103.00" y="311.75" textLength="181.10" lengthAdjust="spacingAndGlyphs" fill="#fff" stroke="#fff" stroke-width="0.35">androidx.compose.foundation.</text>
<rect x="285.90" y="332.25" width="1.8" height="2.0" rx="0.3" fill="#fff"/>
<rect x="288.55" y="332.25" width="1.8" height="2.0" rx="0.3" fill="#fff"/>
<rect x="291.20" y="332.25" width="1.8" height="2.0" rx="0.3" fill="#fff"/>
<text x="103.00" y="334.25" textLength="181.10" lengthAdjust="spacingAndGlyphs" fill="#fff" stroke="#fff" stroke-width="0.35">androidx.compose.foundation.</text>
<rect x="291.40" y="354.75" width="1.8" height="2.0" rx="0.3" fill="#fff"/>
<rect x="294.05" y="354.75" width="1.8" height="2.0" rx="0.3" fill="#fff"/>
<rect x="296.70" y="354.75" width="1.8" height="2.0" rx="0.3" fill="#fff"/>
<text x="100.50" y="356.75" textLength="189.10" lengthAdjust="spacingAndGlyphs" fill="#fff" stroke="#fff" stroke-width="0.35">androidx.compose.runtime.Com</text>
<rect x="287.90" y="377.25" width="1.8" height="2.0" rx="0.3" fill="#fff"/>
<rect x="290.55" y="377.25" width="1.8" height="2.0" rx="0.3" fill="#fff"/>
<rect x="293.20" y="377.25" width="1.8" height="2.0" rx="0.3" fill="#fff"/>
<text x="105.00" y="379.25" textLength="181.10" lengthAdjust="spacingAndGlyphs" fill="#fff" stroke="#fff" stroke-width="0.35">androidx.compose.foundation.</text>
<rect x="286.40" y="399.75" width="1.8" height="2.0" rx="0.3" fill="#fff"/>
<rect x="289.05" y="399.75" width="1.8" height="2.0" rx="0.3" fill="#fff"/>
<rect x="291.70" y="399.75" width="1.8" height="2.0" rx="0.3" fill="#fff"/>
<text x="108.00" y="401.75" textLength="176.60" lengthAdjust="spacingAndGlyphs" fill="#fff" stroke="#fff" stroke-width="0.35">androidx.compose.foundation</text>
<rect x="291.90" y="422.25" width="1.8" height="2.0" rx="0.3" fill="#fff"/>
<rect x="294.55" y="422.25" width="1.8" height="2.0" rx="0.3" fill="#fff"/>
<rect x="297.20" y="422.25" width="1.8" height="2.0" rx="0.3" fill="#fff"/>
<text x="102.50" y="424.25" textLength="187.60" lengthAdjust="spacingAndGlyphs" fill="#fff" stroke="#fff" stroke-width="0.35">com.compose.performance.acc</text>
<rect x="342.40" y="129.75" width="1.8" height="2.0" rx="0.3" fill="#111"/>
<rect x="345.05" y="129.75" width="1.8" height="2.0" rx="0.3" fill="#111"/>
<rect x="347.70" y="129.75" width="1.8" height="2.0" rx="0.3" fill="#111"/>
<text x="326.00" y="131.75" textLength="14.60" lengthAdjust="spacingAndGlyphs" fill="#111" stroke="#111" stroke-width="0.35">Co</text>
<rect x="341.70" y="152.25" width="1.8" height="2.0" rx="0.3" fill="#fff"/>
<rect x="344.35" y="152.25" width="1.8" height="2.0" rx="0.3" fill="#fff"/>
<rect x="347.00" y="152.25" width="1.8" height="2.0" rx="0.3" fill="#fff"/>
<text x="333.30" y="154.25" textLength="6.60" lengthAdjust="spacingAndGlyphs" fill="#fff" stroke="#fff" stroke-width="0.35">b</text>
<rect x="461.10" y="129.75" width="1.8" height="2.0" rx="0.3" fill="#111"/>
<rect x="463.75" y="129.75" width="1.8" height="2.0" rx="0.3" fill="#111"/>
<rect x="466.40" y="129.75" width="1.8" height="2.0" rx="0.3" fill="#111"/>
<text x="452.00" y="131.75" textLength="7.30" lengthAdjust="spacingAndGlyphs" fill="#111" stroke="#111" stroke-width="0.35">C</text>
<text x="479.30" y="131.75" textLength="7.50" lengthAdjust="spacingAndGlyphs" fill="#111" stroke="#111" stroke-width="0.35">C</text>
<text x="457.60" y="154.25" textLength="5.60" lengthAdjust="spacingAndGlyphs" fill="#111" stroke="#111" stroke-width="0.35">a</text>
<text x="457.60" y="176.75" textLength="5.60" lengthAdjust="spacingAndGlyphs" fill="#fff" stroke="#fff" stroke-width="0.35">a</text>
<text x="457.60" y="199.25" textLength="5.60" lengthAdjust="spacingAndGlyphs" fill="#fff" stroke="#fff" stroke-width="0.35">a</text>
<text x="457.60" y="221.75" textLength="5.60" lengthAdjust="spacingAndGlyphs" fill="#111" stroke="#111" stroke-width="0.35">a</text>
<text x="457.60" y="244.25" textLength="5.60" lengthAdjust="spacingAndGlyphs" fill="#fff" stroke="#fff" stroke-width="0.35">a</text>
<text x="457.60" y="266.75" textLength="5.60" lengthAdjust="spacingAndGlyphs" fill="#fff" stroke="#fff" stroke-width="0.35">a</text>
<text x="457.60" y="289.25" textLength="5.60" lengthAdjust="spacingAndGlyphs" fill="#fff" stroke="#fff" stroke-width="0.35">a</text>
<text x="457.60" y="311.75" textLength="5.60" lengthAdjust="spacingAndGlyphs" fill="#fff" stroke="#fff" stroke-width="0.35">a</text>
<text x="457.60" y="334.25" textLength="5.60" lengthAdjust="spacingAndGlyphs" fill="#fff" stroke="#fff" stroke-width="0.35">a</text>
<text x="457.60" y="356.75" textLength="5.60" lengthAdjust="spacingAndGlyphs" fill="#fff" stroke="#fff" stroke-width="0.35">a</text>
<text x="457.60" y="379.25" textLength="5.60" lengthAdjust="spacingAndGlyphs" fill="#fff" stroke="#fff" stroke-width="0.35">a</text>
<text x="457.60" y="401.75" textLength="5.60" lengthAdjust="spacingAndGlyphs" fill="#fff" stroke="#fff" stroke-width="0.35">a</text>
<text x="457.60" y="424.25" textLength="5.60" lengthAdjust="spacingAndGlyphs" fill="#fff" stroke="#fff" stroke-width="0.35">c</text>
<text x="558.90" y="131.75" textLength="7.10" lengthAdjust="spacingAndGlyphs" fill="#111" stroke="#111" stroke-width="0.35">C</text>
<text x="560.00" y="154.25" textLength="6.20" lengthAdjust="spacingAndGlyphs" fill="#fff" stroke="#fff" stroke-width="0.35">b</text>
<text x="626.50" y="131.75" textLength="7.50" lengthAdjust="spacingAndGlyphs" fill="#111" stroke="#111" stroke-width="0.35">C</text>
<rect x="654.20" y="129.75" width="1.8" height="2.0" rx="0.3" fill="#111"/>
<rect x="656.85" y="129.75" width="1.8" height="2.0" rx="0.3" fill="#111"/>
<rect x="659.50" y="129.75" width="1.8" height="2.0" rx="0.3" fill="#111"/>
<text x="645.00" y="131.75" textLength="7.40" lengthAdjust="spacingAndGlyphs" fill="#111" stroke="#111" stroke-width="0.35">C</text>
<text x="627.50" y="154.25" textLength="6.00" lengthAdjust="spacingAndGlyphs" fill="#111" stroke="#111" stroke-width="0.35">a</text>
<text x="627.50" y="176.75" textLength="6.00" lengthAdjust="spacingAndGlyphs" fill="#fff" stroke="#fff" stroke-width="0.35">a</text>
<text x="627.50" y="199.25" textLength="6.00" lengthAdjust="spacingAndGlyphs" fill="#fff" stroke="#fff" stroke-width="0.35">a</text>
<text x="627.50" y="221.75" textLength="6.00" lengthAdjust="spacingAndGlyphs" fill="#111" stroke="#111" stroke-width="0.35">a</text>
<text x="627.50" y="244.25" textLength="6.00" lengthAdjust="spacingAndGlyphs" fill="#fff" stroke="#fff" stroke-width="0.35">a</text>
<text x="627.50" y="266.75" textLength="6.00" lengthAdjust="spacingAndGlyphs" fill="#fff" stroke="#fff" stroke-width="0.35">a</text>
<text x="627.50" y="289.25" textLength="6.00" lengthAdjust="spacingAndGlyphs" fill="#fff" stroke="#fff" stroke-width="0.35">a</text>
<text x="627.50" y="311.75" textLength="6.00" lengthAdjust="spacingAndGlyphs" fill="#fff" stroke="#fff" stroke-width="0.35">a</text>
<text x="627.50" y="334.25" textLength="6.00" lengthAdjust="spacingAndGlyphs" fill="#fff" stroke="#fff" stroke-width="0.35">a</text>
<text x="627.50" y="356.75" textLength="6.00" lengthAdjust="spacingAndGlyphs" fill="#fff" stroke="#fff" stroke-width="0.35">a</text>
<text x="627.50" y="379.25" textLength="6.00" lengthAdjust="spacingAndGlyphs" fill="#fff" stroke="#fff" stroke-width="0.35">a</text>
<text x="627.50" y="401.75" textLength="6.00" lengthAdjust="spacingAndGlyphs" fill="#fff" stroke="#fff" stroke-width="0.35">a</text>
<text x="627.50" y="424.25" textLength="6.00" lengthAdjust="spacingAndGlyphs" fill="#fff" stroke="#fff" stroke-width="0.35">c</text>
<text x="651.30" y="154.25" textLength="5.70" lengthAdjust="spacingAndGlyphs" fill="#fff" stroke="#fff" stroke-width="0.35">b</text>
<rect x="742.40" y="129.75" width="1.8" height="2.0" rx="0.3" fill="#111"/>
<rect x="745.05" y="129.75" width="1.8" height="2.0" rx="0.3" fill="#111"/>
<rect x="747.70" y="129.75" width="1.8" height="2.0" rx="0.3" fill="#111"/>
<text x="726.00" y="131.75" textLength="14.60" lengthAdjust="spacingAndGlyphs" fill="#111" stroke="#111" stroke-width="0.35">Co</text>
<rect x="738.90" y="152.25" width="1.8" height="2.0" rx="0.3" fill="#fff"/>
<rect x="741.55" y="152.25" width="1.8" height="2.0" rx="0.3" fill="#fff"/>
<rect x="744.20" y="152.25" width="1.8" height="2.0" rx="0.3" fill="#fff"/>
<text x="731.10" y="154.25" textLength="6.00" lengthAdjust="spacingAndGlyphs" fill="#fff" stroke="#fff" stroke-width="0.35">b</text>
<rect x="859.10" y="129.75" width="1.8" height="2.0" rx="0.3" fill="#111"/>
<rect x="861.75" y="129.75" width="1.8" height="2.0" rx="0.3" fill="#111"/>
<rect x="864.40" y="129.75" width="1.8" height="2.0" rx="0.3" fill="#111"/>
<text x="842.50" y="131.75" textLength="14.80" lengthAdjust="spacingAndGlyphs" fill="#111" stroke="#111" stroke-width="0.35">Co</text>
<rect x="886.90" y="129.75" width="1.8" height="2.0" rx="0.3" fill="#111"/>
<rect x="889.55" y="129.75" width="1.8" height="2.0" rx="0.3" fill="#111"/>
<rect x="892.20" y="129.75" width="1.8" height="2.0" rx="0.3" fill="#111"/>
<text x="878.00" y="131.75" textLength="7.10" lengthAdjust="spacingAndGlyphs" fill="#111" stroke="#111" stroke-width="0.35">C</text>
<rect x="854.90" y="152.25" width="1.8" height="2.0" rx="0.3" fill="#111"/>
<rect x="857.55" y="152.25" width="1.8" height="2.0" rx="0.3" fill="#111"/>
<rect x="860.20" y="152.25" width="1.8" height="2.0" rx="0.3" fill="#111"/>
<text x="847.10" y="154.25" textLength="6.00" lengthAdjust="spacingAndGlyphs" fill="#111" stroke="#111" stroke-width="0.35">a</text>
<rect x="854.90" y="174.75" width="1.8" height="2.0" rx="0.3" fill="#fff"/>
<rect x="857.55" y="174.75" width="1.8" height="2.0" rx="0.3" fill="#fff"/>
<rect x="860.20" y="174.75" width="1.8" height="2.0" rx="0.3" fill="#fff"/>
<text x="847.10" y="176.75" textLength="6.00" lengthAdjust="spacingAndGlyphs" fill="#fff" stroke="#fff" stroke-width="0.35">a</text>
<rect x="854.90" y="197.25" width="1.8" height="2.0" rx="0.3" fill="#fff"/>
<rect x="857.55" y="197.25" width="1.8" height="2.0" rx="0.3" fill="#fff"/>
<rect x="860.20" y="197.25" width="1.8" height="2.0" rx="0.3" fill="#fff"/>
<text x="847.10" y="199.25" textLength="6.00" lengthAdjust="spacingAndGlyphs" fill="#fff" stroke="#fff" stroke-width="0.35">a</text>
<rect x="854.90" y="219.75" width="1.8" height="2.0" rx="0.3" fill="#111"/>
<rect x="857.55" y="219.75" width="1.8" height="2.0" rx="0.3" fill="#111"/>
<rect x="860.20" y="219.75" width="1.8" height="2.0" rx="0.3" fill="#111"/>
<text x="847.10" y="221.75" textLength="6.00" lengthAdjust="spacingAndGlyphs" fill="#111" stroke="#111" stroke-width="0.35">a</text>
<rect x="854.90" y="242.25" width="1.8" height="2.0" rx="0.3" fill="#fff"/>
<rect x="857.55" y="242.25" width="1.8" height="2.0" rx="0.3" fill="#fff"/>
<rect x="860.20" y="242.25" width="1.8" height="2.0" rx="0.3" fill="#fff"/>
<text x="847.10" y="244.25" textLength="6.00" lengthAdjust="spacingAndGlyphs" fill="#fff" stroke="#fff" stroke-width="0.35">a</text>
<rect x="854.90" y="264.75" width="1.8" height="2.0" rx="0.3" fill="#fff"/>
<rect x="857.55" y="264.75" width="1.8" height="2.0" rx="0.3" fill="#fff"/>
<rect x="860.20" y="264.75" width="1.8" height="2.0" rx="0.3" fill="#fff"/>
<text x="847.10" y="266.75" textLength="6.00" lengthAdjust="spacingAndGlyphs" fill="#fff" stroke="#fff" stroke-width="0.35">a</text>
<rect x="854.90" y="287.25" width="1.8" height="2.0" rx="0.3" fill="#fff"/>
<rect x="857.55" y="287.25" width="1.8" height="2.0" rx="0.3" fill="#fff"/>
<rect x="860.20" y="287.25" width="1.8" height="2.0" rx="0.3" fill="#fff"/>
<text x="847.10" y="289.25" textLength="6.00" lengthAdjust="spacingAndGlyphs" fill="#fff" stroke="#fff" stroke-width="0.35">a</text>
<rect x="854.90" y="309.75" width="1.8" height="2.0" rx="0.3" fill="#fff"/>
<rect x="857.55" y="309.75" width="1.8" height="2.0" rx="0.3" fill="#fff"/>
<rect x="860.20" y="309.75" width="1.8" height="2.0" rx="0.3" fill="#fff"/>
<text x="847.10" y="311.75" textLength="6.00" lengthAdjust="spacingAndGlyphs" fill="#fff" stroke="#fff" stroke-width="0.35">a</text>
<rect x="854.90" y="332.25" width="1.8" height="2.0" rx="0.3" fill="#fff"/>
<rect x="857.55" y="332.25" width="1.8" height="2.0" rx="0.3" fill="#fff"/>
<rect x="860.20" y="332.25" width="1.8" height="2.0" rx="0.3" fill="#fff"/>
<text x="847.10" y="334.25" textLength="6.00" lengthAdjust="spacingAndGlyphs" fill="#fff" stroke="#fff" stroke-width="0.35">a</text>
<rect x="854.90" y="354.75" width="1.8" height="2.0" rx="0.3" fill="#fff"/>
<rect x="857.55" y="354.75" width="1.8" height="2.0" rx="0.3" fill="#fff"/>
<rect x="860.20" y="354.75" width="1.8" height="2.0" rx="0.3" fill="#fff"/>
<text x="847.10" y="356.75" textLength="6.00" lengthAdjust="spacingAndGlyphs" fill="#fff" stroke="#fff" stroke-width="0.35">a</text>
<rect x="854.90" y="377.25" width="1.8" height="2.0" rx="0.3" fill="#fff"/>
<rect x="857.55" y="377.25" width="1.8" height="2.0" rx="0.3" fill="#fff"/>
<rect x="860.20" y="377.25" width="1.8" height="2.0" rx="0.3" fill="#fff"/>
<text x="847.10" y="379.25" textLength="6.00" lengthAdjust="spacingAndGlyphs" fill="#fff" stroke="#fff" stroke-width="0.35">a</text>
<rect x="854.90" y="399.75" width="1.8" height="2.0" rx="0.3" fill="#fff"/>
<rect x="857.55" y="399.75" width="1.8" height="2.0" rx="0.3" fill="#fff"/>
<rect x="860.20" y="399.75" width="1.8" height="2.0" rx="0.3" fill="#fff"/>
<text x="847.10" y="401.75" textLength="6.00" lengthAdjust="spacingAndGlyphs" fill="#fff" stroke="#fff" stroke-width="0.35">a</text>
<rect x="854.90" y="422.25" width="1.8" height="2.0" rx="0.3" fill="#fff"/>
<rect x="857.55" y="422.25" width="1.8" height="2.0" rx="0.3" fill="#fff"/>
<rect x="860.20" y="422.25" width="1.8" height="2.0" rx="0.3" fill="#fff"/>
<text x="847.10" y="424.25" textLength="6.00" lengthAdjust="spacingAndGlyphs" fill="#fff" stroke="#fff" stroke-width="0.35">c</text>
<text x="885.00" y="154.25" textLength="6.40" lengthAdjust="spacingAndGlyphs" fill="#fff" stroke="#fff" stroke-width="0.35">b</text>
<rect x="177.40" y="444.75" width="1.8" height="2.0" rx="0.3" fill="#fff"/>
<rect x="180.05" y="444.75" width="1.8" height="2.0" rx="0.3" fill="#fff"/>
<rect x="182.70" y="444.75" width="1.8" height="2.0" rx="0.3" fill="#fff"/>
<text x="98.80" y="446.75" textLength="76.80" lengthAdjust="spacingAndGlyphs" fill="#fff" stroke="#fff" stroke-width="0.35">com.compos</text>
<text x="201.30" y="446.75" textLength="6.20" lengthAdjust="spacingAndGlyphs" fill="#fff" stroke="#fff" stroke-width="0.35">c</text>
<rect x="267.90" y="444.75" width="1.8" height="2.0" rx="0.3" fill="#fff"/>
<rect x="270.55" y="444.75" width="1.8" height="2.0" rx="0.3" fill="#fff"/>
<rect x="273.20" y="444.75" width="1.8" height="2.0" rx="0.3" fill="#fff"/>
<text x="226.50" y="446.75" textLength="39.60" lengthAdjust="spacingAndGlyphs" fill="#fff" stroke="#fff" stroke-width="0.35">coil.co</text>
<text x="296.70" y="446.75" textLength="5.80" lengthAdjust="spacingAndGlyphs" fill="#fff" stroke="#fff" stroke-width="0.35">c</text>
<text x="172.50" y="469.25" textLength="7.50" lengthAdjust="spacingAndGlyphs" fill="#fff" stroke="#fff" stroke-width="0.35">P</text>
<rect x="229.90" y="467.25" width="1.8" height="2.0" rx="0.3" fill="#fff"/>
<rect x="232.55" y="467.25" width="1.8" height="2.0" rx="0.3" fill="#fff"/>
<rect x="235.20" y="467.25" width="1.8" height="2.0" rx="0.3" fill="#fff"/>
<text x="221.70" y="469.25" textLength="6.40" lengthAdjust="spacingAndGlyphs" fill="#fff" stroke="#fff" stroke-width="0.35">c</text>
<rect x="272.90" y="467.25" width="1.8" height="2.0" rx="0.3" fill="#fff"/>
<rect x="275.55" y="467.25" width="1.8" height="2.0" rx="0.3" fill="#fff"/>
<rect x="278.20" y="467.25" width="1.8" height="2.0" rx="0.3" fill="#fff"/>
<text x="250.50" y="469.25" textLength="20.60" lengthAdjust="spacingAndGlyphs" fill="#fff" stroke="#fff" stroke-width="0.35">coil</text>
<text x="201.30" y="491.75" textLength="6.20" lengthAdjust="spacingAndGlyphs" fill="#fff" stroke="#fff" stroke-width="0.35">a</text>
<rect x="272.90" y="489.75" width="1.8" height="2.0" rx="0.3" fill="#fff"/>
<rect x="275.55" y="489.75" width="1.8" height="2.0" rx="0.3" fill="#fff"/>
<rect x="278.20" y="489.75" width="1.8" height="2.0" rx="0.3" fill="#fff"/>
<text x="253.80" y="491.75" textLength="17.30" lengthAdjust="spacingAndGlyphs" fill="#fff" stroke="#fff" stroke-width="0.35">coi</text>
<text x="201.30" y="514.25" textLength="6.20" lengthAdjust="spacingAndGlyphs" fill="#fff" stroke="#fff" stroke-width="0.35">a</text>
<rect x="270.90" y="512.25" width="1.8" height="2.0" rx="0.3" fill="#fff"/>
<rect x="273.55" y="512.25" width="1.8" height="2.0" rx="0.3" fill="#fff"/>
<rect x="276.20" y="512.25" width="1.8" height="2.0" rx="0.3" fill="#fff"/>
<text x="255.80" y="514.25" textLength="13.30" lengthAdjust="spacingAndGlyphs" fill="#fff" stroke="#fff" stroke-width="0.35">co</text>
<rect x="270.90" y="534.75" width="1.8" height="2.0" rx="0.3" fill="#fff"/>
<rect x="273.55" y="534.75" width="1.8" height="2.0" rx="0.3" fill="#fff"/>
<rect x="276.20" y="534.75" width="1.8" height="2.0" rx="0.3" fill="#fff"/>
<text x="255.80" y="536.75" textLength="13.30" lengthAdjust="spacingAndGlyphs" fill="#fff" stroke="#fff" stroke-width="0.35">co</text>
<text x="202.6" y="469.25" fill="#fff" stroke="#fff" stroke-width="0.5">l</text>

<rect x="185.1" y="429" width="39.9" height="155" fill="none" stroke="#ff7a00" stroke-width="8"/>
<path d="M127.6 594 L172.2 582.8 L182.6 627.4" fill="none" stroke="#ff7a00" stroke-width="9.3" stroke-linecap="round" stroke-linejoin="round"/>
<path d="M172.0 582.8 L127.9 655.2" fill="none" stroke="#ff7a00" stroke-width="9.3" stroke-linecap="butt"/>

</svg>
</body></html>
